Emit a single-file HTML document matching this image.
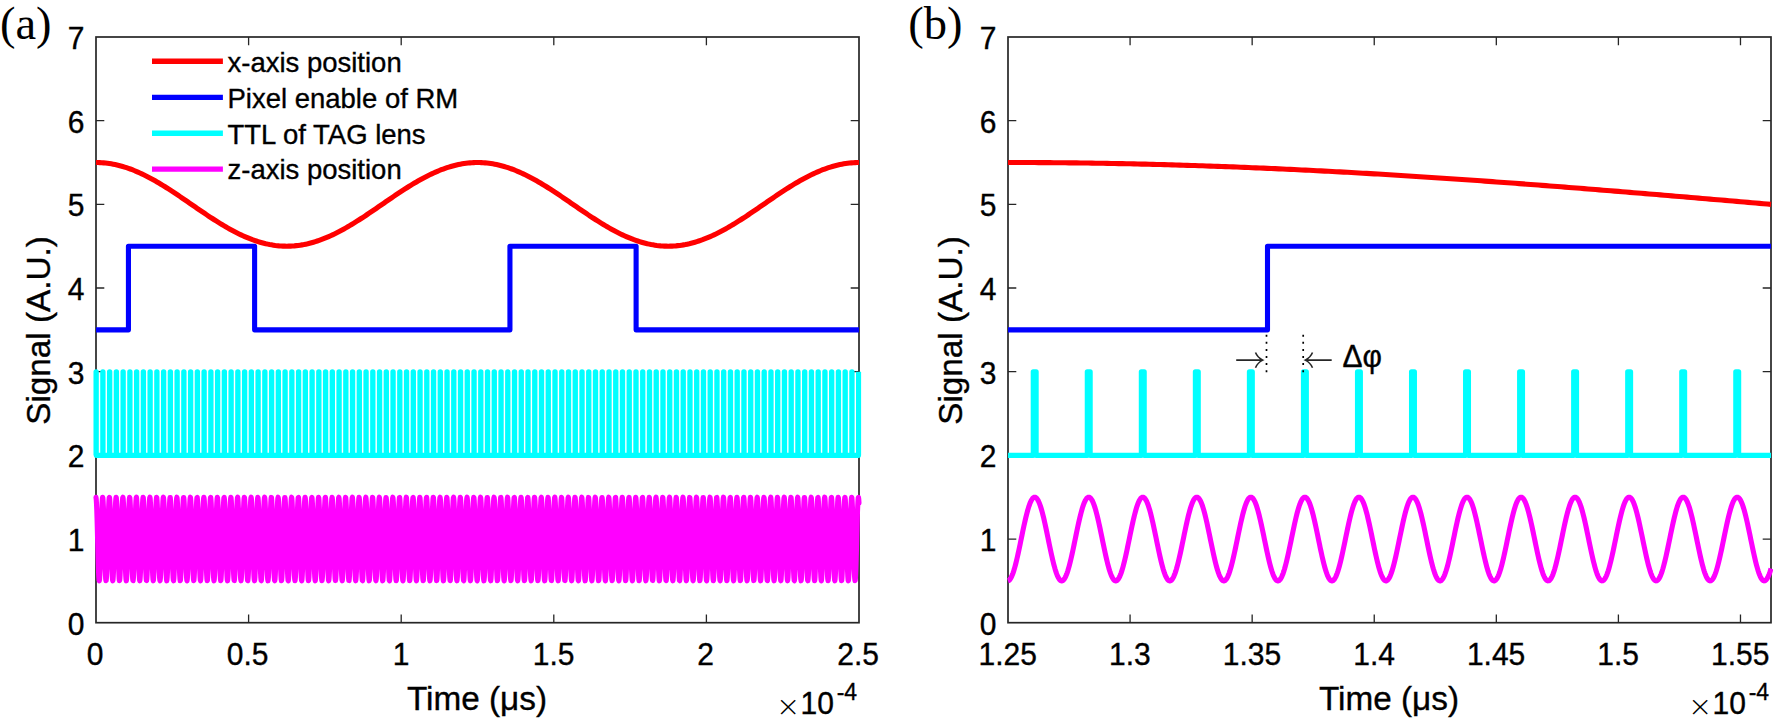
<!DOCTYPE html>
<html lang="en"><head><meta charset="utf-8"><title>Signal timing</title>
<style>
html,body{margin:0;padding:0;background:#fff}
body{width:1773px;height:724px;overflow:hidden}
svg{display:block}
text{font-family:"Liberation Sans",sans-serif;fill:#000;stroke:#000;stroke-width:0.35px}
text.tk{font-size:30px}
text.lb{font-size:33.3px}
text.sp{font-size:23px}
text.lg{font-size:27.5px}
text.pn{font-family:"Liberation Serif",serif;font-size:46.5px;fill:#000;stroke:none}
text.tm{font-family:"DejaVu Sans","Liberation Sans",sans-serif;font-size:29px;font-weight:200;stroke:none}
</style></head><body>
<svg width="1773" height="724" viewBox="0 0 1773 724">
<rect width="1773" height="724" fill="#fff"/>
<rect x="96.0" y="37.0" width="763.0" height="585.7" fill="none" stroke="#262626" stroke-width="1.7"/>
<path d="M96.0 539.03h8.3 M859.0 539.03h-8.3 M96.0 455.36h8.3 M859.0 455.36h-8.3 M96.0 371.69h8.3 M859.0 371.69h-8.3 M96.0 288.01h8.3 M859.0 288.01h-8.3 M96.0 204.34h8.3 M859.0 204.34h-8.3 M96.0 120.67h8.3 M859.0 120.67h-8.3 M248.6 622.7v-8.3 M248.6 37.0v8.3 M401.2 622.7v-8.3 M401.2 37.0v8.3 M553.8 622.7v-8.3 M553.8 37.0v8.3 M706.4 622.7v-8.3 M706.4 37.0v8.3 " fill="none" stroke="#262626" stroke-width="1.3"/>
<text class="tk" text-anchor="end" transform="translate(84.5 634.6) scale(1 1.07)">0</text>
<text class="tk" text-anchor="end" transform="translate(84.5 550.93) scale(1 1.07)">1</text>
<text class="tk" text-anchor="end" transform="translate(84.5 467.26) scale(1 1.07)">2</text>
<text class="tk" text-anchor="end" transform="translate(84.5 383.59) scale(1 1.07)">3</text>
<text class="tk" text-anchor="end" transform="translate(84.5 299.91) scale(1 1.07)">4</text>
<text class="tk" text-anchor="end" transform="translate(84.5 216.24) scale(1 1.07)">5</text>
<text class="tk" text-anchor="end" transform="translate(84.5 132.57) scale(1 1.07)">6</text>
<text class="tk" text-anchor="end" transform="translate(84.5 48.9) scale(1 1.07)">7</text>
<text class="tk" text-anchor="middle" transform="translate(95.1 665.2) scale(1 1.07)">0</text>
<text class="tk" text-anchor="middle" transform="translate(247.7 665.2) scale(1 1.07)">0.5</text>
<text class="tk" text-anchor="middle" transform="translate(401 665.2) scale(1 1.07)">1</text>
<text class="tk" text-anchor="middle" transform="translate(553.6 665.2) scale(1 1.07)">1.5</text>
<text class="tk" text-anchor="middle" transform="translate(705.5 665.2) scale(1 1.07)">2</text>
<text class="tk" text-anchor="middle" transform="translate(858.1 665.2) scale(1 1.07)">2.5</text>
<text class="lb" text-anchor="middle" transform="translate(477 710.2) scale(1 1.0)">Time (μs)</text>
<text class="lb" text-anchor="middle" transform="translate(49.8 330.45) rotate(-90) scale(1 1.0)">Signal (A.U.)</text>
<text class="tm" text-anchor="start" transform="translate(775.9 716) scale(1 1.0)">×</text>
<text class="tk" text-anchor="start" transform="translate(800.6 714.1) scale(1 1.07)">10</text>
<text class="sp" text-anchor="start" transform="translate(836.7 699.6) scale(1 1.04)">-4</text>
<path d="M96 497.37 L96.25 499.45 L96.51 503.73 L96.76 509.99 L97.02 517.86 L97.27 526.92 L97.53 536.65 L97.78 546.52 L98.03 555.97 L98.29 564.47 L98.54 571.55 L98.8 576.82 L99.05 579.97 L99.31 580.85 L99.56 579.38 L99.81 575.67 L100.07 569.91 L100.32 562.42 L100.58 553.63 L100.83 544.03 L101.09 534.14 L101.34 524.53 L101.6 515.73 L101.85 508.23 L102.1 502.45 L102.36 498.71 L102.61 497.22 L102.87 498.06 L103.12 501.19 L103.38 506.43 L103.63 513.5 L103.88 521.98 L104.14 531.42 L104.39 541.29 L104.65 551.02 L104.9 560.09 L105.16 567.98 L105.41 574.26 L105.66 578.57 L105.92 580.67 L106.17 580.45 L106.43 577.92 L106.68 573.21 L106.94 566.6 L107.19 558.44 L107.44 549.21 L107.7 539.41 L107.95 529.58 L108.21 520.28 L108.46 512.03 L108.72 505.29 L108.97 500.43 L109.23 497.72 L109.48 497.32 L109.73 499.25 L109.99 503.4 L110.24 509.53 L110.5 517.32 L110.75 526.31 L111.01 536.02 L111.26 545.89 L111.51 555.38 L111.77 563.96 L112.02 571.15 L112.28 576.54 L112.53 579.84 L112.79 580.86 L113.04 579.55 L113.29 575.97 L113.55 570.33 L113.8 562.95 L114.06 554.23 L114.31 544.66 L114.57 534.78 L114.82 525.13 L115.08 516.26 L115.33 508.66 L115.58 502.76 L115.84 498.88 L116.09 497.24 L116.35 497.94 L116.6 500.92 L116.86 506.04 L117.11 513 L117.36 521.4 L117.62 530.8 L117.87 540.65 L118.13 550.41 L118.38 559.54 L118.64 567.52 L118.89 573.91 L119.14 578.36 L119.4 580.61 L119.65 580.53 L119.91 578.15 L120.16 573.57 L120.42 567.07 L120.67 559.01 L120.92 549.83 L121.18 540.04 L121.43 530.2 L121.69 520.85 L121.94 512.52 L122.2 505.67 L122.45 500.68 L122.7 497.83 L122.96 497.28 L123.21 499.06 L123.47 503.07 L123.72 509.09 L123.98 516.78 L124.23 525.71 L124.49 535.38 L124.74 545.26 L124.99 554.8 L125.25 563.45 L125.5 570.73 L125.76 576.25 L126.01 579.69 L126.27 580.86 L126.52 579.7 L126.77 576.26 L127.03 570.75 L127.28 563.47 L127.54 554.82 L127.79 545.29 L128.05 535.41 L128.3 525.73 L128.55 516.8 L128.81 509.1 L129.06 503.08 L129.32 499.06 L129.57 497.28 L129.83 497.82 L130.08 500.67 L130.34 505.65 L130.59 512.5 L130.84 520.83 L131.1 530.18 L131.35 540.02 L131.61 549.8 L131.86 558.98 L132.12 567.05 L132.37 573.56 L132.62 578.14 L132.88 580.53 L133.13 580.61 L133.39 578.37 L133.64 573.93 L133.9 567.54 L134.15 559.56 L134.4 550.44 L134.66 540.68 L134.91 530.82 L135.17 521.43 L135.42 513.02 L135.68 506.05 L135.93 500.93 L136.18 497.94 L136.44 497.24 L136.69 498.87 L136.95 502.75 L137.2 508.64 L137.46 516.24 L137.71 525.11 L137.97 534.75 L138.22 544.63 L138.47 554.2 L138.73 562.93 L138.98 570.32 L139.24 575.96 L139.49 579.54 L139.75 580.86 L140 579.84 L140.25 576.55 L140.51 571.16 L140.76 563.98 L141.02 555.41 L141.27 545.92 L141.53 536.04 L141.78 526.34 L142.03 517.34 L142.29 509.55 L142.54 503.41 L142.8 499.26 L143.05 497.32 L143.31 497.72 L143.56 500.42 L143.81 505.27 L144.07 512.01 L144.32 520.26 L144.58 529.55 L144.83 539.38 L145.09 549.18 L145.34 558.42 L145.59 566.58 L145.85 573.2 L146.1 577.91 L146.36 580.45 L146.61 580.67 L146.87 578.58 L147.12 574.27 L147.38 568 L147.63 560.11 L147.88 551.05 L148.14 541.31 L148.39 531.45 L148.65 522.01 L148.9 513.52 L149.16 506.45 L149.41 501.2 L149.66 498.06 L149.92 497.21 L150.17 498.7 L150.43 502.43 L150.68 508.21 L150.94 515.71 L151.19 524.51 L151.44 534.12 L151.7 544 L151.95 553.61 L152.21 562.4 L152.46 569.89 L152.72 575.66 L152.97 579.38 L153.22 580.84 L153.48 579.98 L153.73 576.83 L153.99 571.57 L154.24 564.49 L154.5 555.99 L154.75 546.54 L155.01 536.68 L155.26 526.95 L155.51 517.89 L155.77 510.01 L156.02 503.75 L156.28 499.46 L156.53 497.38 L156.79 497.62 L157.04 500.18 L157.29 504.9 L157.55 511.53 L157.8 519.69 L158.06 528.94 L158.31 538.74 L158.57 548.57 L158.82 557.86 L159.07 566.1 L159.33 572.82 L159.58 577.67 L159.84 580.35 L160.09 580.73 L160.35 578.78 L160.6 574.61 L160.86 568.46 L161.11 560.66 L161.36 551.66 L161.62 541.95 L161.87 532.08 L162.13 522.59 L162.38 514.02 L162.64 506.85 L162.89 501.48 L163.14 498.2 L163.4 497.2 L163.65 498.53 L163.91 502.13 L164.16 507.78 L164.42 515.18 L164.67 523.91 L164.92 533.49 L165.18 543.37 L165.43 553.01 L165.69 561.87 L165.94 569.46 L166.2 575.34 L166.45 579.2 L166.7 580.82 L166.96 580.1 L167.21 577.1 L167.47 571.96 L167.72 564.99 L167.98 556.57 L168.23 547.17 L168.49 537.32 L168.74 527.56 L168.99 518.44 L169.25 510.47 L169.5 504.09 L169.76 499.67 L170.01 497.44 L170.27 497.53 L170.52 499.94 L170.77 504.54 L171.03 511.05 L171.28 519.13 L171.54 528.32 L171.79 538.11 L172.05 547.95 L172.3 557.29 L172.55 565.61 L172.81 572.45 L173.06 577.42 L173.32 580.25 L173.57 580.78 L173.83 578.97 L174.08 574.94 L174.33 568.91 L174.59 561.2 L174.84 552.26 L175.1 542.58 L175.35 532.7 L175.61 523.18 L175.86 514.54 L176.12 507.26 L176.37 501.76 L176.62 498.34 L176.88 497.19 L177.13 498.38 L177.39 501.83 L177.64 507.36 L177.9 514.66 L178.15 523.32 L178.4 532.86 L178.66 542.74 L178.91 552.41 L179.17 561.34 L179.42 569.02 L179.68 575.02 L179.93 579.02 L180.18 580.79 L180.44 580.22 L180.69 577.36 L180.95 572.35 L181.2 565.49 L181.46 557.15 L181.71 547.79 L181.96 537.95 L182.22 528.17 L182.47 518.99 L182.73 510.94 L182.98 504.45 L183.24 499.89 L183.49 497.51 L183.75 497.46 L184 499.72 L184.25 504.18 L184.51 510.58 L184.76 518.57 L185.02 527.71 L185.27 537.47 L185.53 547.32 L185.78 556.71 L186.03 565.11 L186.29 572.06 L186.54 577.16 L186.8 580.13 L187.05 580.81 L187.31 579.16 L187.56 575.27 L187.81 569.35 L188.07 561.74 L188.32 552.86 L188.58 543.22 L188.83 533.33 L189.09 523.77 L189.34 515.06 L189.59 507.68 L189.85 502.06 L190.1 498.5 L190.36 497.2 L190.61 498.23 L190.87 501.55 L191.12 506.95 L191.38 514.15 L191.63 522.73 L191.88 532.23 L192.14 542.1 L192.39 551.81 L192.65 560.8 L192.9 568.57 L193.16 574.69 L193.41 578.83 L193.66 580.74 L193.92 580.33 L194.17 577.61 L194.43 572.73 L194.68 565.98 L194.94 557.72 L195.19 548.41 L195.44 538.59 L195.7 528.79 L195.95 519.55 L196.21 511.41 L196.46 504.81 L196.72 500.12 L196.97 497.6 L197.22 497.39 L197.48 499.51 L197.73 503.83 L197.99 510.12 L198.24 518.02 L198.5 527.09 L198.75 536.84 L199 546.7 L199.26 556.13 L199.51 564.61 L199.77 571.66 L200.02 576.89 L200.28 580.01 L200.53 580.84 L200.79 579.33 L201.04 575.58 L201.29 569.78 L201.55 562.27 L201.8 553.46 L202.06 543.85 L202.31 533.96 L202.57 524.36 L202.82 515.58 L203.07 508.11 L203.33 502.36 L203.58 498.66 L203.84 497.21 L204.09 498.1 L204.35 501.27 L204.6 506.55 L204.85 513.64 L205.11 522.15 L205.36 531.6 L205.62 541.47 L205.87 551.2 L206.13 560.25 L206.38 568.12 L206.63 574.36 L206.89 578.63 L207.14 580.69 L207.4 580.42 L207.65 577.85 L207.91 573.1 L208.16 566.46 L208.42 558.28 L208.67 549.03 L208.92 539.22 L209.18 529.4 L209.43 520.12 L209.69 511.89 L209.94 505.18 L210.2 500.36 L210.45 497.69 L210.7 497.33 L210.96 499.3 L211.21 503.49 L211.47 509.66 L211.72 517.47 L211.98 526.49 L212.23 536.2 L212.48 546.07 L212.74 555.55 L212.99 564.11 L213.25 571.26 L213.5 576.62 L213.76 579.88 L214.01 580.86 L214.26 579.5 L214.52 575.88 L214.77 570.21 L215.03 562.8 L215.28 554.06 L215.54 544.48 L215.79 534.6 L216.05 524.96 L216.3 516.11 L216.55 508.54 L216.81 502.67 L217.06 498.83 L217.32 497.23 L217.57 497.97 L217.83 501 L218.08 506.15 L218.33 513.14 L218.59 521.57 L218.84 530.98 L219.1 540.83 L219.35 550.59 L219.61 559.7 L219.86 567.65 L220.11 574.01 L220.37 578.42 L220.62 580.63 L220.88 580.51 L221.13 578.08 L221.39 573.47 L221.64 566.94 L221.89 558.85 L222.15 549.65 L222.4 539.86 L222.66 530.02 L222.91 520.69 L223.17 512.38 L223.42 505.56 L223.68 500.6 L223.93 497.79 L224.18 497.29 L224.44 499.11 L224.69 503.16 L224.95 509.21 L225.2 516.93 L225.46 525.88 L225.71 535.57 L225.96 545.44 L226.22 554.96 L226.47 563.59 L226.73 570.85 L226.98 576.34 L227.24 579.74 L227.49 580.86 L227.74 579.66 L228 576.18 L228.25 570.63 L228.51 563.32 L228.76 554.65 L229.02 545.11 L229.27 535.23 L229.53 525.56 L229.78 516.64 L230.03 508.98 L230.29 502.99 L230.54 499.01 L230.8 497.27 L231.05 497.85 L231.31 500.74 L231.56 505.76 L231.81 512.64 L232.07 520.99 L232.32 530.35 L232.58 540.2 L232.83 549.98 L233.09 559.14 L233.34 567.19 L233.59 573.66 L233.85 578.2 L234.1 580.55 L234.36 580.59 L234.61 578.3 L234.87 573.83 L235.12 567.41 L235.37 559.4 L235.63 550.26 L235.88 540.5 L236.14 530.65 L236.39 521.26 L236.65 512.87 L236.9 505.94 L237.16 500.86 L237.41 497.91 L237.66 497.25 L237.92 498.92 L238.17 502.84 L238.43 508.77 L238.68 516.39 L238.94 525.28 L239.19 534.93 L239.44 544.81 L239.7 554.37 L239.95 563.08 L240.21 570.44 L240.46 576.04 L240.72 579.58 L240.97 580.86 L241.22 579.8 L241.48 576.47 L241.73 571.05 L241.99 563.83 L242.24 555.24 L242.5 545.74 L242.75 535.86 L243 526.16 L243.26 517.18 L243.51 509.42 L243.77 503.31 L244.02 499.2 L244.28 497.31 L244.53 497.74 L244.78 500.49 L245.04 505.38 L245.29 512.15 L245.55 520.42 L245.8 529.73 L246.06 539.56 L246.31 549.36 L246.57 558.58 L246.82 566.71 L247.07 573.3 L247.33 577.97 L247.58 580.47 L247.84 580.66 L248.09 578.52 L248.35 574.18 L248.6 567.87 L248.85 559.96 L249.11 550.88 L249.36 541.13 L249.62 531.27 L249.87 521.84 L250.13 513.37 L250.38 506.34 L250.63 501.12 L250.89 498.03 L251.14 497.22 L251.4 498.75 L251.65 502.52 L251.91 508.33 L252.16 515.86 L252.41 524.68 L252.67 534.3 L252.92 544.18 L253.18 553.78 L253.43 562.55 L253.69 570.01 L253.94 575.74 L254.2 579.42 L254.45 580.85 L254.7 579.94 L254.96 576.75 L255.21 571.45 L255.47 564.34 L255.72 555.82 L255.98 546.37 L256.23 536.5 L256.48 526.77 L256.74 517.73 L256.99 509.88 L257.25 503.65 L257.5 499.4 L257.76 497.36 L258.01 497.65 L258.26 500.24 L258.52 505.01 L258.77 511.67 L259.03 519.85 L259.28 529.11 L259.54 538.92 L259.79 548.74 L260.04 558.02 L260.3 566.23 L260.55 572.93 L260.81 577.74 L261.06 580.38 L261.32 580.72 L261.57 578.72 L261.83 574.52 L262.08 568.33 L262.33 560.51 L262.59 551.48 L262.84 541.77 L263.1 531.9 L263.35 522.42 L263.61 513.88 L263.86 506.74 L264.11 501.4 L264.37 498.16 L264.62 497.2 L264.88 498.58 L265.13 502.22 L265.39 507.91 L265.64 515.33 L265.89 524.08 L266.15 533.67 L266.4 543.55 L266.66 553.18 L266.91 562.02 L267.17 569.58 L267.42 575.43 L267.68 579.25 L267.93 580.83 L268.18 580.07 L268.44 577.02 L268.69 571.85 L268.95 564.85 L269.2 556.4 L269.46 546.99 L269.71 537.13 L269.96 527.38 L270.22 518.28 L270.47 510.34 L270.73 503.99 L270.98 499.61 L271.24 497.42 L271.49 497.56 L271.74 500.01 L272 504.64 L272.25 511.19 L272.51 519.29 L272.76 528.5 L273.02 538.29 L273.27 548.12 L273.52 557.45 L273.78 565.75 L274.03 572.55 L274.29 577.49 L274.54 580.28 L274.8 580.76 L275.05 578.92 L275.31 574.85 L275.56 568.78 L275.81 561.05 L276.07 552.09 L276.32 542.4 L276.58 532.52 L276.83 523.01 L277.09 514.39 L277.34 507.15 L277.59 501.68 L277.85 498.3 L278.1 497.19 L278.36 498.42 L278.61 501.92 L278.87 507.48 L279.12 514.81 L279.37 523.49 L279.63 533.04 L279.88 542.92 L280.14 552.58 L280.39 561.49 L280.65 569.14 L280.9 575.12 L281.15 579.07 L281.41 580.8 L281.66 580.19 L281.92 577.28 L282.17 572.24 L282.43 565.35 L282.68 556.98 L282.94 547.61 L283.19 537.77 L283.44 527.99 L283.7 518.83 L283.95 510.8 L284.21 504.35 L284.46 499.83 L284.72 497.49 L284.97 497.48 L285.22 499.78 L285.48 504.28 L285.73 510.72 L285.99 518.73 L286.24 527.88 L286.5 537.65 L286.75 547.5 L287 556.88 L287.26 565.25 L287.51 572.17 L287.77 577.23 L288.02 580.17 L288.28 580.8 L288.53 579.11 L288.78 575.17 L289.04 569.22 L289.29 561.59 L289.55 552.69 L289.8 543.03 L290.06 533.15 L290.31 523.6 L290.56 514.91 L290.82 507.56 L291.07 501.97 L291.33 498.45 L291.58 497.19 L291.84 498.27 L292.09 501.63 L292.35 507.07 L292.6 514.3 L292.85 522.9 L293.11 532.41 L293.36 542.28 L293.62 551.98 L293.87 560.95 L294.13 568.7 L294.38 574.79 L294.63 578.89 L294.89 580.76 L295.14 580.3 L295.4 577.54 L295.65 572.62 L295.91 565.84 L296.16 557.55 L296.41 548.24 L296.67 538.41 L296.92 528.61 L297.18 519.39 L297.43 511.28 L297.69 504.71 L297.94 500.05 L298.19 497.57 L298.45 497.41 L298.7 499.57 L298.96 503.93 L299.21 510.25 L299.47 518.18 L299.72 527.27 L299.98 537.02 L300.23 546.88 L300.48 556.3 L300.74 564.76 L300.99 571.78 L301.25 576.97 L301.5 580.05 L301.76 580.83 L302.01 579.29 L302.26 575.49 L302.52 569.66 L302.77 562.12 L303.03 553.29 L303.28 543.67 L303.54 533.78 L303.79 524.19 L304.04 515.43 L304.3 507.98 L304.55 502.27 L304.81 498.61 L305.06 497.21 L305.32 498.13 L305.57 501.35 L305.82 506.66 L306.08 513.79 L306.33 522.32 L306.59 531.78 L306.84 541.65 L307.1 551.37 L307.35 560.41 L307.61 568.25 L307.86 574.46 L308.11 578.69 L308.37 580.71 L308.62 580.4 L308.88 577.78 L309.13 573 L309.39 566.32 L309.64 558.12 L309.89 548.86 L310.15 539.04 L310.4 529.23 L310.66 519.96 L310.91 511.75 L311.17 505.07 L311.42 500.29 L311.67 497.66 L311.93 497.35 L312.18 499.36 L312.44 503.59 L312.69 509.79 L312.95 517.63 L313.2 526.66 L313.46 536.38 L313.71 546.25 L313.96 555.72 L314.22 564.25 L314.47 571.38 L314.73 576.7 L314.98 579.92 L315.24 580.85 L315.49 579.45 L315.74 575.8 L316 570.09 L316.25 562.65 L316.51 553.89 L316.76 544.3 L317.02 534.42 L317.27 524.79 L317.52 515.96 L317.78 508.41 L318.03 502.58 L318.29 498.78 L318.54 497.23 L318.8 498.01 L319.05 501.08 L319.3 506.26 L319.56 513.28 L319.81 521.74 L320.07 531.16 L320.32 541.01 L320.58 550.76 L320.83 559.86 L321.09 567.79 L321.34 574.11 L321.59 578.48 L321.85 580.65 L322.1 580.49 L322.36 578.01 L322.61 573.37 L322.87 566.8 L323.12 558.69 L323.37 549.47 L323.63 539.68 L323.88 529.85 L324.14 520.53 L324.39 512.24 L324.65 505.45 L324.9 500.53 L325.15 497.76 L325.41 497.3 L325.66 499.16 L325.92 503.25 L326.17 509.34 L326.43 517.08 L326.68 526.05 L326.93 535.75 L327.19 545.62 L327.44 555.13 L327.7 563.74 L327.95 570.97 L328.21 576.42 L328.46 579.78 L328.72 580.86 L328.97 579.61 L329.22 576.1 L329.48 570.51 L329.73 563.17 L329.99 554.48 L330.24 544.93 L330.5 535.05 L330.75 525.39 L331 516.49 L331.26 508.85 L331.51 502.9 L331.77 498.96 L332.02 497.26 L332.28 497.89 L332.53 500.81 L332.78 505.87 L333.04 512.78 L333.29 521.16 L333.55 530.53 L333.8 540.38 L334.06 550.15 L334.31 559.3 L334.56 567.32 L334.82 573.76 L335.07 578.26 L335.33 580.58 L335.58 580.57 L335.84 578.24 L336.09 573.73 L336.35 567.27 L336.6 559.25 L336.85 550.09 L337.11 540.31 L337.36 530.47 L337.62 521.1 L337.87 512.73 L338.13 505.83 L338.38 500.79 L338.63 497.87 L338.89 497.26 L339.14 498.98 L339.4 502.93 L339.65 508.9 L339.91 516.55 L340.16 525.45 L340.41 535.11 L340.67 544.99 L340.92 554.54 L341.18 563.22 L341.43 570.56 L341.69 576.13 L341.94 579.63 L342.19 580.86 L342.45 579.76 L342.7 576.39 L342.96 570.93 L343.21 563.69 L343.47 555.07 L343.72 545.56 L343.98 535.68 L344.23 525.99 L344.48 517.03 L344.74 509.3 L344.99 503.22 L345.25 499.14 L345.5 497.29 L345.76 497.77 L346.01 500.56 L346.26 505.49 L346.52 512.29 L346.77 520.58 L347.03 529.91 L347.28 539.74 L347.54 549.54 L347.79 558.74 L348.04 566.85 L348.3 573.4 L348.55 578.04 L348.81 580.5 L349.06 580.64 L349.32 578.46 L349.57 574.08 L349.82 567.74 L350.08 559.8 L350.33 550.7 L350.59 540.95 L350.84 531.09 L351.1 521.68 L351.35 513.23 L351.61 506.22 L351.86 501.05 L352.11 497.99 L352.37 497.23 L352.62 498.8 L352.88 502.61 L353.13 508.46 L353.39 516.01 L353.64 524.85 L353.89 534.48 L354.15 544.36 L354.4 553.95 L354.66 562.7 L354.91 570.13 L355.17 575.83 L355.42 579.47 L355.67 580.85 L355.93 579.9 L356.18 576.67 L356.44 571.34 L356.69 564.2 L356.95 555.66 L357.2 546.19 L357.45 536.32 L357.71 526.6 L357.96 517.57 L358.22 509.75 L358.47 503.55 L358.73 499.34 L358.98 497.34 L359.24 497.67 L359.49 500.31 L359.74 505.11 L360 511.8 L360.25 520.02 L360.51 529.29 L360.76 539.11 L361.02 548.92 L361.27 558.18 L361.52 566.37 L361.78 573.04 L362.03 577.8 L362.29 580.41 L362.54 580.7 L362.8 578.67 L363.05 574.42 L363.3 568.2 L363.56 560.35 L363.81 551.31 L364.07 541.58 L364.32 531.72 L364.58 522.26 L364.83 513.73 L365.08 506.62 L365.34 501.32 L365.59 498.12 L365.85 497.21 L366.1 498.63 L366.36 502.3 L366.61 508.03 L366.87 515.48 L367.12 524.25 L367.37 533.85 L367.63 543.73 L367.88 553.35 L368.14 562.18 L368.39 569.71 L368.65 575.52 L368.9 579.3 L369.15 580.84 L369.41 580.03 L369.66 576.94 L369.92 571.74 L370.17 564.7 L370.43 556.24 L370.68 546.81 L370.93 536.95 L371.19 527.21 L371.44 518.12 L371.7 510.2 L371.95 503.89 L372.21 499.55 L372.46 497.4 L372.71 497.58 L372.97 500.08 L373.22 504.74 L373.48 511.32 L373.73 519.45 L373.99 528.67 L374.24 538.47 L374.5 548.3 L374.75 557.61 L375 565.89 L375.26 572.66 L375.51 577.56 L375.77 580.31 L376.02 580.75 L376.28 578.87 L376.53 574.76 L376.78 568.65 L377.04 560.89 L377.29 551.92 L377.55 542.22 L377.8 532.34 L378.06 522.84 L378.31 514.24 L378.56 507.03 L378.82 501.6 L379.07 498.26 L379.33 497.2 L379.58 498.47 L379.84 502 L380.09 507.6 L380.34 514.96 L380.6 523.66 L380.85 533.22 L381.11 543.1 L381.36 552.75 L381.62 561.64 L381.87 569.27 L382.12 575.21 L382.38 579.13 L382.63 580.81 L382.89 580.16 L383.14 577.21 L383.4 572.13 L383.65 565.2 L383.91 556.82 L384.16 547.44 L384.41 537.59 L384.67 527.82 L384.92 518.68 L385.18 510.67 L385.43 504.24 L385.69 499.76 L385.94 497.47 L386.19 497.5 L386.45 499.85 L386.7 504.38 L386.96 510.85 L387.21 518.89 L387.47 528.06 L387.72 537.83 L387.97 547.68 L388.23 557.04 L388.48 565.4 L388.74 572.28 L388.99 577.31 L389.25 580.2 L389.5 580.79 L389.75 579.06 L390.01 575.08 L390.26 569.1 L390.52 561.43 L390.77 552.52 L391.03 542.85 L391.28 532.97 L391.54 523.43 L391.79 514.76 L392.04 507.44 L392.3 501.89 L392.55 498.41 L392.81 497.19 L393.06 498.32 L393.32 501.71 L393.57 507.19 L393.82 514.44 L394.08 523.07 L394.33 532.59 L394.59 542.47 L394.84 552.15 L395.1 561.1 L395.35 568.83 L395.6 574.88 L395.86 578.94 L396.11 580.77 L396.37 580.27 L396.62 577.46 L396.88 572.52 L397.13 565.7 L397.38 557.39 L397.64 548.06 L397.89 538.22 L398.15 528.43 L398.4 519.23 L398.66 511.14 L398.91 504.6 L399.17 499.99 L399.42 497.55 L399.67 497.43 L399.93 499.63 L400.18 504.03 L400.44 510.38 L400.69 518.34 L400.95 527.44 L401.2 537.2 L401.45 547.05 L401.71 556.46 L401.96 564.9 L402.22 571.89 L402.47 577.05 L402.73 580.08 L402.98 580.83 L403.23 579.24 L403.49 575.4 L403.74 569.54 L404 561.97 L404.25 553.12 L404.51 543.49 L404.76 533.6 L405.01 524.02 L405.27 515.28 L405.52 507.86 L405.78 502.18 L406.03 498.56 L406.29 497.2 L406.54 498.17 L406.8 501.43 L407.05 506.78 L407.3 513.93 L407.56 522.48 L407.81 531.96 L408.07 541.83 L408.32 551.55 L408.58 560.56 L408.83 568.38 L409.08 574.55 L409.34 578.74 L409.59 580.72 L409.85 580.37 L410.1 577.71 L410.36 572.89 L410.61 566.18 L410.86 557.96 L411.12 548.68 L411.37 538.86 L411.63 529.05 L411.88 519.8 L412.14 511.62 L412.39 504.97 L412.64 500.22 L412.9 497.64 L413.15 497.37 L413.41 499.42 L413.66 503.68 L413.92 509.92 L414.17 517.79 L414.43 526.83 L414.68 536.56 L414.93 546.43 L415.19 555.88 L415.44 564.4 L415.7 571.49 L415.95 576.78 L416.21 579.95 L416.46 580.85 L416.71 579.41 L416.97 575.71 L417.22 569.97 L417.48 562.5 L417.73 553.72 L417.99 544.12 L418.24 534.23 L418.49 524.62 L418.75 515.81 L419 508.29 L419.26 502.49 L419.51 498.73 L419.77 497.22 L420.02 498.04 L420.27 501.15 L420.53 506.38 L420.78 513.42 L421.04 521.9 L421.29 531.33 L421.55 541.2 L421.8 550.94 L422.06 560.01 L422.31 567.92 L422.56 574.21 L422.82 578.54 L423.07 580.66 L423.33 580.46 L423.58 577.95 L423.84 573.26 L424.09 566.67 L424.34 558.53 L424.6 549.3 L424.85 539.5 L425.11 529.67 L425.36 520.36 L425.62 512.1 L425.87 505.34 L426.12 500.46 L426.38 497.73 L426.63 497.31 L426.89 499.22 L427.14 503.35 L427.4 509.47 L427.65 517.24 L427.9 526.23 L428.16 535.93 L428.41 545.8 L428.67 555.3 L428.92 563.89 L429.18 571.09 L429.43 576.5 L429.69 579.82 L429.94 580.86 L430.19 579.57 L430.45 576.01 L430.7 570.39 L430.96 563.02 L431.21 554.31 L431.47 544.75 L431.72 534.87 L431.97 525.22 L432.23 516.34 L432.48 508.73 L432.74 502.8 L432.99 498.91 L433.25 497.25 L433.5 497.92 L433.75 500.89 L434.01 505.98 L434.26 512.92 L434.52 521.32 L434.77 530.71 L435.03 540.56 L435.28 550.33 L435.54 559.46 L435.79 567.46 L436.04 573.86 L436.3 578.33 L436.55 580.6 L436.81 580.55 L437.06 578.18 L437.32 573.62 L437.57 567.14 L437.82 559.09 L438.08 549.91 L438.33 540.13 L438.59 530.29 L438.84 520.94 L439.1 512.59 L439.35 505.72 L439.6 500.71 L439.86 497.84 L440.11 497.27 L440.37 499.03 L440.62 503.02 L440.88 509.02 L441.13 516.7 L441.38 525.62 L441.64 535.29 L441.89 545.17 L442.15 554.71 L442.4 563.37 L442.66 570.68 L442.91 576.21 L443.17 579.67 L443.42 580.86 L443.67 579.72 L443.93 576.31 L444.18 570.81 L444.44 563.54 L444.69 554.9 L444.95 545.38 L445.2 535.5 L445.45 525.82 L445.71 516.88 L445.96 509.17 L446.22 503.13 L446.47 499.09 L446.73 497.28 L446.98 497.81 L447.23 500.63 L447.49 505.6 L447.74 512.43 L448 520.75 L448.25 530.09 L448.51 539.92 L448.76 549.71 L449.01 558.9 L449.27 566.99 L449.52 573.51 L449.78 578.1 L450.03 580.52 L450.29 580.62 L450.54 578.4 L450.8 573.98 L451.05 567.61 L451.3 559.64 L451.56 550.53 L451.81 540.77 L452.07 530.91 L452.32 521.51 L452.58 513.09 L452.83 506.11 L453.08 500.97 L453.34 497.96 L453.59 497.24 L453.85 498.85 L454.1 502.7 L454.36 508.58 L454.61 516.16 L454.86 525.02 L455.12 534.66 L455.37 544.54 L455.63 554.12 L455.88 562.85 L456.14 570.26 L456.39 575.92 L456.64 579.52 L456.9 580.86 L457.15 579.86 L457.41 576.59 L457.66 571.22 L457.92 564.05 L458.17 555.49 L458.43 546.01 L458.68 536.14 L458.93 526.42 L459.19 517.42 L459.44 509.62 L459.7 503.46 L459.95 499.28 L460.21 497.33 L460.46 497.7 L460.71 500.38 L460.97 505.22 L461.22 511.94 L461.48 520.18 L461.73 529.47 L461.99 539.29 L462.24 549.1 L462.49 558.34 L462.75 566.51 L463 573.14 L463.26 577.87 L463.51 580.43 L463.77 580.68 L464.02 578.61 L464.27 574.32 L464.53 568.07 L464.78 560.19 L465.04 551.14 L465.29 541.4 L465.55 531.54 L465.8 522.09 L466.06 513.59 L466.31 506.51 L466.56 501.24 L466.82 498.08 L467.07 497.21 L467.33 498.67 L467.58 502.39 L467.84 508.15 L468.09 515.63 L468.34 524.42 L468.6 534.03 L468.85 543.91 L469.11 553.52 L469.36 562.33 L469.62 569.83 L469.87 575.61 L470.12 579.35 L470.38 580.84 L470.63 580 L470.89 576.87 L471.14 571.62 L471.4 564.56 L471.65 556.07 L471.9 546.63 L472.16 536.77 L472.41 527.03 L472.67 517.96 L472.92 510.07 L473.18 503.8 L473.43 499.49 L473.69 497.39 L473.94 497.61 L474.19 500.14 L474.45 504.85 L474.7 511.46 L474.96 519.61 L475.21 528.85 L475.47 538.65 L475.72 548.48 L475.97 557.77 L476.23 566.03 L476.48 572.77 L476.74 577.63 L476.99 580.34 L477.25 580.74 L477.5 578.81 L477.75 574.66 L478.01 568.52 L478.26 560.74 L478.52 551.74 L478.77 542.04 L479.03 532.16 L479.28 522.67 L479.53 514.1 L479.79 506.91 L480.04 501.52 L480.3 498.22 L480.55 497.2 L480.81 498.51 L481.06 502.09 L481.31 507.72 L481.57 515.11 L481.82 523.83 L482.08 533.4 L482.33 543.28 L482.59 552.93 L482.84 561.8 L483.1 569.39 L483.35 575.3 L483.6 579.18 L483.86 580.82 L484.11 580.12 L484.37 577.13 L484.62 572.02 L484.88 565.06 L485.13 556.65 L485.38 547.26 L485.64 537.41 L485.89 527.64 L486.15 518.52 L486.4 510.54 L486.66 504.14 L486.91 499.7 L487.16 497.45 L487.42 497.52 L487.67 499.91 L487.93 504.48 L488.18 510.98 L488.44 519.05 L488.69 528.23 L488.94 538.02 L489.2 547.86 L489.45 557.2 L489.71 565.54 L489.96 572.39 L490.22 577.38 L490.47 580.23 L490.73 580.78 L490.98 579 L491.23 574.99 L491.49 568.97 L491.74 561.28 L492 552.35 L492.25 542.67 L492.51 532.79 L492.76 523.26 L493.01 514.61 L493.27 507.32 L493.52 501.8 L493.78 498.36 L494.03 497.19 L494.29 498.36 L494.54 501.79 L494.79 507.31 L495.05 514.59 L495.3 523.24 L495.56 532.77 L495.81 542.65 L496.07 552.32 L496.32 561.26 L496.57 568.95 L496.83 574.98 L497.08 578.99 L497.34 580.78 L497.59 580.24 L497.85 577.39 L498.1 572.41 L498.36 565.56 L498.61 557.23 L498.86 547.88 L499.12 538.04 L499.37 528.26 L499.63 519.07 L499.88 511 L500.14 504.5 L500.39 499.92 L500.64 497.53 L500.9 497.45 L501.15 499.69 L501.41 504.13 L501.66 510.52 L501.92 518.49 L502.17 527.62 L502.42 537.38 L502.68 547.23 L502.93 556.63 L503.19 565.04 L503.44 572 L503.7 577.12 L503.95 580.12 L504.2 580.82 L504.46 579.18 L504.71 575.31 L504.97 569.41 L505.22 561.82 L505.48 552.95 L505.73 543.31 L505.99 533.42 L506.24 523.85 L506.49 515.13 L506.75 507.74 L507 502.1 L507.26 498.52 L507.51 497.2 L507.77 498.21 L508.02 501.51 L508.27 506.89 L508.53 514.08 L508.78 522.65 L509.04 532.14 L509.29 542.01 L509.55 551.72 L509.8 560.72 L510.05 568.51 L510.31 574.65 L510.56 578.8 L510.82 580.74 L511.07 580.34 L511.33 577.64 L511.58 572.79 L511.83 566.05 L512.09 557.8 L512.34 548.5 L512.6 538.68 L512.85 528.87 L513.11 519.64 L513.36 511.48 L513.62 504.86 L513.87 500.15 L514.12 497.61 L514.38 497.38 L514.63 499.48 L514.89 503.78 L515.14 510.05 L515.4 517.94 L515.65 527.01 L515.9 536.74 L516.16 546.61 L516.41 556.05 L516.67 564.54 L516.92 571.61 L517.18 576.86 L517.43 579.99 L517.68 580.84 L517.94 579.36 L518.19 575.62 L518.45 569.85 L518.7 562.35 L518.96 553.55 L519.21 543.94 L519.46 534.05 L519.72 524.45 L519.97 515.66 L520.23 508.17 L520.48 502.4 L520.74 498.68 L520.99 497.21 L521.25 498.08 L521.5 501.23 L521.75 506.49 L522.01 513.57 L522.26 522.07 L522.52 531.51 L522.77 541.38 L523.03 551.11 L523.28 560.17 L523.53 568.05 L523.79 574.31 L524.04 578.6 L524.3 580.68 L524.55 580.44 L524.81 577.88 L525.06 573.16 L525.31 566.53 L525.57 558.36 L525.82 549.12 L526.08 539.31 L526.33 529.49 L526.59 520.2 L526.84 511.96 L527.1 505.23 L527.35 500.39 L527.6 497.71 L527.86 497.33 L528.11 499.28 L528.37 503.44 L528.62 509.6 L528.88 517.4 L529.13 526.4 L529.38 536.11 L529.64 545.98 L529.89 555.47 L530.15 564.03 L530.4 571.2 L530.66 576.58 L530.91 579.86 L531.16 580.86 L531.42 579.52 L531.67 575.93 L531.93 570.27 L532.18 562.87 L532.44 554.14 L532.69 544.57 L532.94 534.69 L533.2 525.05 L533.45 516.19 L533.71 508.6 L533.96 502.71 L534.22 498.85 L534.47 497.24 L534.73 497.95 L534.98 500.96 L535.23 506.09 L535.49 513.07 L535.74 521.49 L536 530.89 L536.25 540.74 L536.51 550.5 L536.76 559.62 L537.01 567.59 L537.27 573.96 L537.52 578.39 L537.78 580.62 L538.03 580.52 L538.29 578.11 L538.54 573.52 L538.79 567 L539.05 558.93 L539.3 549.74 L539.56 539.95 L539.81 530.11 L540.07 520.77 L540.32 512.45 L540.57 505.61 L540.83 500.64 L541.08 497.81 L541.34 497.28 L541.59 499.08 L541.85 503.11 L542.1 509.15 L542.36 516.85 L542.61 525.79 L542.86 535.48 L543.12 545.35 L543.37 554.88 L543.63 563.52 L543.88 570.79 L544.14 576.29 L544.39 579.71 L544.64 580.86 L544.9 579.68 L545.15 576.22 L545.41 570.69 L545.66 563.39 L545.92 554.74 L546.17 545.2 L546.42 535.32 L546.68 525.65 L546.93 516.72 L547.19 509.04 L547.44 503.03 L547.7 499.04 L547.95 497.27 L548.2 497.84 L548.46 500.7 L548.71 505.71 L548.97 512.57 L549.22 520.91 L549.48 530.26 L549.73 540.11 L549.99 549.89 L550.24 559.06 L550.49 567.12 L550.75 573.61 L551 578.17 L551.26 580.54 L551.51 580.6 L551.77 578.34 L552.02 573.88 L552.27 567.47 L552.53 559.48 L552.78 550.35 L553.04 540.59 L553.29 530.73 L553.55 521.35 L553.8 512.94 L554.05 506 L554.31 500.9 L554.56 497.92 L554.82 497.24 L555.07 498.9 L555.33 502.79 L555.58 508.71 L555.83 516.32 L556.09 525.19 L556.34 534.84 L556.6 544.72 L556.85 554.29 L557.11 563 L557.36 570.38 L557.62 576 L557.87 579.56 L558.12 580.86 L558.38 579.82 L558.63 576.51 L558.89 571.1 L559.14 563.91 L559.4 555.32 L559.65 545.83 L559.9 535.95 L560.16 526.25 L560.41 517.26 L560.67 509.49 L560.92 503.36 L561.18 499.23 L561.43 497.31 L561.68 497.73 L561.94 500.45 L562.19 505.33 L562.45 512.08 L562.7 520.34 L562.96 529.64 L563.21 539.47 L563.46 549.27 L563.72 558.5 L563.97 566.65 L564.23 573.25 L564.48 577.94 L564.74 580.46 L564.99 580.67 L565.25 578.55 L565.5 574.23 L565.75 567.94 L566.01 560.04 L566.26 550.96 L566.52 541.22 L566.77 531.36 L567.03 521.92 L567.28 513.44 L567.53 506.39 L567.79 501.16 L568.04 498.05 L568.3 497.22 L568.55 498.72 L568.81 502.48 L569.06 508.27 L569.31 515.78 L569.57 524.59 L569.82 534.21 L570.08 544.09 L570.33 553.69 L570.59 562.48 L570.84 569.95 L571.09 575.7 L571.35 579.4 L571.6 580.85 L571.86 579.96 L572.11 576.79 L572.37 571.51 L572.62 564.42 L572.88 555.91 L573.13 546.46 L573.38 536.59 L573.64 526.86 L573.89 517.81 L574.15 509.94 L574.4 503.7 L574.66 499.43 L574.91 497.37 L575.16 497.63 L575.42 500.21 L575.67 504.95 L575.93 511.6 L576.18 519.77 L576.44 529.02 L576.69 538.83 L576.94 548.65 L577.2 557.94 L577.45 566.16 L577.71 572.88 L577.96 577.7 L578.22 580.37 L578.47 580.72 L578.72 578.75 L578.98 574.57 L579.23 568.39 L579.49 560.58 L579.74 551.57 L580 541.86 L580.25 531.99 L580.5 522.51 L580.76 513.95 L581.01 506.79 L581.27 501.44 L581.52 498.18 L581.78 497.2 L582.03 498.56 L582.29 502.17 L582.54 507.84 L582.79 515.26 L583.05 524 L583.3 533.58 L583.56 543.46 L583.81 553.1 L584.07 561.95 L584.32 569.52 L584.57 575.39 L584.83 579.23 L585.08 580.82 L585.34 580.09 L585.59 577.06 L585.85 571.91 L586.1 564.92 L586.35 556.49 L586.61 547.08 L586.86 537.22 L587.12 527.47 L587.37 518.36 L587.63 510.4 L587.88 504.04 L588.13 499.64 L588.39 497.43 L588.64 497.55 L588.9 499.98 L589.15 504.59 L589.41 511.12 L589.66 519.21 L589.92 528.41 L590.17 538.2 L590.42 548.03 L590.68 557.37 L590.93 565.68 L591.19 572.5 L591.44 577.45 L591.7 580.26 L591.95 580.77 L592.2 578.95 L592.46 574.9 L592.71 568.84 L592.97 561.13 L593.22 552.18 L593.48 542.49 L593.73 532.61 L593.98 523.09 L594.24 514.46 L594.49 507.2 L594.75 501.72 L595 498.32 L595.26 497.19 L595.51 498.4 L595.76 501.88 L596.02 507.42 L596.27 514.74 L596.53 523.41 L596.78 532.95 L597.04 542.83 L597.29 552.5 L597.55 561.41 L597.8 569.08 L598.05 575.07 L598.31 579.05 L598.56 580.79 L598.82 580.2 L599.07 577.32 L599.33 572.3 L599.58 565.42 L599.83 557.06 L600.09 547.7 L600.34 537.86 L600.6 528.08 L600.85 518.91 L601.11 510.87 L601.36 504.4 L601.61 499.86 L601.87 497.5 L602.12 497.47 L602.38 499.75 L602.63 504.23 L602.89 510.65 L603.14 518.65 L603.39 527.79 L603.65 537.56 L603.9 547.41 L604.16 556.79 L604.41 565.18 L604.67 572.11 L604.92 577.2 L605.18 580.15 L605.43 580.81 L605.68 579.13 L605.94 575.22 L606.19 569.29 L606.45 561.66 L606.7 552.78 L606.96 543.13 L607.21 533.24 L607.46 523.68 L607.72 514.98 L607.97 507.62 L608.23 502.01 L608.48 498.47 L608.74 497.2 L608.99 498.25 L609.24 501.59 L609.5 507.01 L609.75 514.22 L610.01 522.82 L610.26 532.32 L610.52 542.19 L610.77 551.89 L611.02 560.87 L611.28 568.63 L611.53 574.74 L611.79 578.86 L612.04 580.75 L612.3 580.31 L612.55 577.57 L612.81 572.68 L613.06 565.91 L613.31 557.64 L613.57 548.33 L613.82 538.5 L614.08 528.7 L614.33 519.47 L614.59 511.34 L614.84 504.76 L615.09 500.08 L615.35 497.59 L615.6 497.4 L615.86 499.54 L616.11 503.88 L616.37 510.19 L616.62 518.1 L616.87 527.18 L617.13 536.93 L617.38 546.79 L617.64 556.22 L617.89 564.68 L618.15 571.72 L618.4 576.93 L618.65 580.03 L618.91 580.84 L619.16 579.31 L619.42 575.54 L619.67 569.72 L619.93 562.2 L620.18 553.38 L620.44 543.76 L620.69 533.87 L620.94 524.28 L621.2 515.5 L621.45 508.04 L621.71 502.31 L621.96 498.63 L622.22 497.21 L622.47 498.12 L622.72 501.31 L622.98 506.61 L623.23 513.71 L623.49 522.23 L623.74 531.69 L624 541.56 L624.25 551.29 L624.5 560.33 L624.76 568.18 L625.01 574.41 L625.27 578.66 L625.52 580.7 L625.78 580.41 L626.03 577.81 L626.28 573.05 L626.54 566.39 L626.79 558.2 L627.05 548.94 L627.3 539.13 L627.56 529.31 L627.81 520.04 L628.07 511.82 L628.32 505.13 L628.57 500.32 L628.83 497.68 L629.08 497.34 L629.34 499.33 L629.59 503.54 L629.85 509.73 L630.1 517.55 L630.35 526.57 L630.61 536.29 L630.86 546.16 L631.12 555.63 L631.37 564.18 L631.63 571.32 L631.88 576.66 L632.13 579.9 L632.39 580.85 L632.64 579.48 L632.9 575.84 L633.15 570.15 L633.41 562.72 L633.66 553.97 L633.91 544.39 L634.17 534.51 L634.42 524.87 L634.68 516.03 L634.93 508.48 L635.19 502.62 L635.44 498.8 L635.7 497.23 L635.95 497.99 L636.2 501.04 L636.46 506.21 L636.71 513.21 L636.97 521.65 L637.22 531.07 L637.48 540.92 L637.73 550.68 L637.98 559.78 L638.24 567.72 L638.49 574.06 L638.75 578.45 L639 580.64 L639.26 580.5 L639.51 578.05 L639.76 573.42 L640.02 566.87 L640.27 558.77 L640.53 549.56 L640.78 539.77 L641.04 529.93 L641.29 520.61 L641.54 512.31 L641.8 505.5 L642.05 500.57 L642.31 497.78 L642.56 497.29 L642.82 499.14 L643.07 503.21 L643.33 509.28 L643.58 517.01 L643.83 525.97 L644.09 535.66 L644.34 545.53 L644.6 555.05 L644.85 563.67 L645.11 570.91 L645.36 576.38 L645.61 579.76 L645.87 580.86 L646.12 579.63 L646.38 576.14 L646.63 570.57 L646.89 563.25 L647.14 554.57 L647.39 545.02 L647.65 535.14 L647.9 525.47 L648.16 516.57 L648.41 508.91 L648.67 502.94 L648.92 498.98 L649.17 497.26 L649.43 497.87 L649.68 500.77 L649.94 505.82 L650.19 512.71 L650.45 521.08 L650.7 530.44 L650.96 540.29 L651.21 550.06 L651.46 559.22 L651.72 567.25 L651.97 573.71 L652.23 578.23 L652.48 580.56 L652.74 580.58 L652.99 578.27 L653.24 573.78 L653.5 567.34 L653.75 559.32 L654.01 550.18 L654.26 540.4 L654.52 530.56 L654.77 521.18 L655.02 512.8 L655.28 505.89 L655.53 500.82 L655.79 497.89 L656.04 497.25 L656.3 498.95 L656.55 502.88 L656.8 508.83 L657.06 516.47 L657.31 525.36 L657.57 535.02 L657.82 544.9 L658.08 554.46 L658.33 563.15 L658.59 570.5 L658.84 576.09 L659.09 579.61 L659.35 580.86 L659.6 579.78 L659.86 576.43 L660.11 570.99 L660.37 563.76 L660.62 555.16 L660.87 545.65 L661.13 535.77 L661.38 526.08 L661.64 517.11 L661.89 509.36 L662.15 503.27 L662.4 499.17 L662.65 497.3 L662.91 497.76 L663.16 500.52 L663.42 505.43 L663.67 512.22 L663.93 520.5 L664.18 529.82 L664.43 539.65 L664.69 549.45 L664.94 558.66 L665.2 566.78 L665.45 573.35 L665.71 578.01 L665.96 580.48 L666.22 580.65 L666.47 578.49 L666.72 574.13 L666.98 567.81 L667.23 559.88 L667.49 550.79 L667.74 541.04 L668 531.18 L668.25 521.76 L668.5 513.3 L668.76 506.28 L669.01 501.09 L669.27 498.01 L669.52 497.22 L669.78 498.77 L670.03 502.57 L670.28 508.4 L670.54 515.94 L670.79 524.76 L671.05 534.39 L671.3 544.27 L671.56 553.86 L671.81 562.63 L672.07 570.07 L672.32 575.79 L672.57 579.45 L672.83 580.85 L673.08 579.92 L673.34 576.71 L673.59 571.39 L673.85 564.27 L674.1 555.74 L674.35 546.28 L674.61 536.41 L674.86 526.68 L675.12 517.65 L675.37 509.81 L675.63 503.6 L675.88 499.37 L676.13 497.35 L676.39 497.66 L676.64 500.28 L676.9 505.06 L677.15 511.73 L677.41 519.93 L677.66 529.2 L677.91 539.02 L678.17 548.83 L678.42 558.1 L678.68 566.3 L678.93 572.98 L679.19 577.77 L679.44 580.39 L679.7 580.71 L679.95 578.7 L680.2 574.47 L680.46 568.26 L680.71 560.43 L680.97 551.4 L681.22 541.68 L681.48 531.81 L681.73 522.34 L681.98 513.81 L682.24 506.68 L682.49 501.36 L682.75 498.14 L683 497.2 L683.26 498.6 L683.51 502.26 L683.76 507.97 L684.02 515.41 L684.27 524.17 L684.53 533.76 L684.78 543.64 L685.04 553.27 L685.29 562.1 L685.54 569.64 L685.8 575.48 L686.05 579.28 L686.31 580.83 L686.56 580.05 L686.82 576.98 L687.07 571.79 L687.33 564.78 L687.58 556.32 L687.83 546.9 L688.09 537.04 L688.34 527.29 L688.6 518.2 L688.85 510.27 L689.11 503.94 L689.36 499.58 L689.61 497.41 L689.87 497.57 L690.12 500.04 L690.38 504.69 L690.63 511.26 L690.89 519.37 L691.14 528.58 L691.39 538.38 L691.65 548.21 L691.9 557.53 L692.16 565.82 L692.41 572.61 L692.67 577.53 L692.92 580.29 L693.17 580.76 L693.43 578.89 L693.68 574.8 L693.94 568.72 L694.19 560.97 L694.45 552 L694.7 542.31 L694.96 532.43 L695.21 522.93 L695.46 514.32 L695.72 507.09 L695.97 501.64 L696.23 498.28 L696.48 497.19 L696.74 498.44 L696.99 501.96 L697.24 507.54 L697.5 514.89 L697.75 523.58 L698.01 533.13 L698.26 543.01 L698.52 552.67 L698.77 561.57 L699.02 569.21 L699.28 575.16 L699.53 579.1 L699.79 580.8 L700.04 580.17 L700.3 577.25 L700.55 572.19 L700.8 565.27 L701.06 556.9 L701.31 547.53 L701.57 537.68 L701.82 527.91 L702.08 518.75 L702.33 510.74 L702.59 504.29 L702.84 499.79 L703.09 497.48 L703.35 497.49 L703.6 499.82 L703.86 504.33 L704.11 510.78 L704.37 518.81 L704.62 527.97 L704.87 537.74 L705.13 547.59 L705.38 556.96 L705.64 565.33 L705.89 572.23 L706.15 577.27 L706.4 580.18 L706.65 580.8 L706.91 579.08 L707.16 575.13 L707.42 569.16 L707.67 561.51 L707.93 552.61 L708.18 542.94 L708.43 533.06 L708.69 523.51 L708.94 514.83 L709.2 507.5 L709.45 501.93 L709.71 498.43 L709.96 497.19 L710.22 498.29 L710.47 501.67 L710.72 507.13 L710.98 514.37 L711.23 522.99 L711.49 532.5 L711.74 542.38 L712 552.07 L712.25 561.03 L712.5 568.76 L712.76 574.84 L713.01 578.91 L713.27 580.76 L713.52 580.28 L713.78 577.5 L714.03 572.57 L714.28 565.77 L714.54 557.47 L714.79 548.15 L715.05 538.31 L715.3 528.52 L715.56 519.31 L715.81 511.21 L716.06 504.65 L716.32 500.02 L716.57 497.56 L716.83 497.42 L717.08 499.6 L717.34 503.98 L717.59 510.32 L717.85 518.26 L718.1 527.36 L718.35 537.11 L718.61 546.97 L718.86 556.38 L719.12 564.83 L719.37 571.83 L719.63 577.01 L719.88 580.06 L720.13 580.83 L720.39 579.26 L720.64 575.45 L720.9 569.6 L721.15 562.05 L721.41 553.21 L721.66 543.58 L721.91 533.69 L722.17 524.11 L722.42 515.35 L722.68 507.92 L722.93 502.23 L723.19 498.59 L723.44 497.2 L723.69 498.15 L723.95 501.39 L724.2 506.72 L724.46 513.86 L724.71 522.4 L724.97 531.87 L725.22 541.74 L725.48 551.46 L725.73 560.48 L725.98 568.31 L726.24 574.5 L726.49 578.72 L726.75 580.71 L727 580.38 L727.26 577.75 L727.51 572.95 L727.76 566.25 L728.02 558.04 L728.27 548.77 L728.53 538.95 L728.78 529.14 L729.04 519.88 L729.29 511.69 L729.54 505.02 L729.8 500.25 L730.05 497.65 L730.31 497.36 L730.56 499.39 L730.82 503.64 L731.07 509.86 L731.32 517.71 L731.58 526.75 L731.83 536.47 L732.09 546.34 L732.34 555.8 L732.6 564.32 L732.85 571.44 L733.11 576.74 L733.36 579.94 L733.61 580.85 L733.87 579.43 L734.12 575.76 L734.38 570.03 L734.63 562.57 L734.89 553.8 L735.14 544.21 L735.39 534.33 L735.65 524.7 L735.9 515.88 L736.16 508.35 L736.41 502.53 L736.67 498.75 L736.92 497.22 L737.17 498.02 L737.43 501.11 L737.68 506.32 L737.94 513.35 L738.19 521.82 L738.45 531.24 L738.7 541.11 L738.95 550.85 L739.21 559.94 L739.46 567.85 L739.72 574.16 L739.97 578.51 L740.23 580.65 L740.48 580.47 L740.74 577.98 L740.99 573.31 L741.24 566.73 L741.5 558.61 L741.75 549.39 L742.01 539.59 L742.26 529.76 L742.52 520.45 L742.77 512.17 L743.02 505.39 L743.28 500.5 L743.53 497.75 L743.79 497.31 L744.04 499.19 L744.3 503.3 L744.55 509.4 L744.8 517.16 L745.06 526.14 L745.31 535.84 L745.57 545.71 L745.82 555.22 L746.08 563.81 L746.33 571.03 L746.58 576.46 L746.84 579.8 L747.09 580.86 L747.35 579.59 L747.6 576.06 L747.86 570.45 L748.11 563.1 L748.37 554.4 L748.62 544.84 L748.87 534.96 L749.13 525.3 L749.38 516.41 L749.64 508.79 L749.89 502.85 L750.15 498.93 L750.4 497.25 L750.65 497.9 L750.91 500.85 L751.16 505.93 L751.42 512.85 L751.67 521.24 L751.93 530.62 L752.18 540.47 L752.43 550.24 L752.69 559.38 L752.94 567.39 L753.2 573.81 L753.45 578.3 L753.71 580.59 L753.96 580.56 L754.21 578.21 L754.47 573.68 L754.72 567.21 L754.98 559.17 L755.23 550 L755.49 540.22 L755.74 530.38 L756 521.02 L756.25 512.66 L756.5 505.78 L756.76 500.75 L757.01 497.86 L757.27 497.26 L757.52 499 L757.78 502.97 L758.03 508.96 L758.28 516.62 L758.54 525.54 L758.79 535.2 L759.05 545.08 L759.3 554.63 L759.56 563.3 L759.81 570.62 L760.06 576.17 L760.32 579.65 L760.57 580.86 L760.83 579.74 L761.08 576.35 L761.34 570.87 L761.59 563.61 L761.84 554.99 L762.1 545.47 L762.35 535.59 L762.61 525.91 L762.86 516.95 L763.12 509.23 L763.37 503.17 L763.62 499.12 L763.88 497.29 L764.13 497.79 L764.39 500.59 L764.64 505.54 L764.9 512.36 L765.15 520.67 L765.41 530 L765.66 539.83 L765.91 549.62 L766.17 558.82 L766.42 566.92 L766.68 573.46 L766.93 578.07 L767.19 580.51 L767.44 580.63 L767.69 578.43 L767.95 574.03 L768.2 567.67 L768.46 559.72 L768.71 550.61 L768.97 540.86 L769.22 531 L769.47 521.59 L769.73 513.16 L769.98 506.17 L770.24 501.01 L770.49 497.98 L770.75 497.23 L771 498.82 L771.25 502.66 L771.51 508.52 L771.76 516.09 L772.02 524.94 L772.27 534.57 L772.53 544.45 L772.78 554.03 L773.04 562.78 L773.29 570.19 L773.54 575.87 L773.8 579.49 L774.05 580.86 L774.31 579.88 L774.56 576.63 L774.82 571.28 L775.07 564.13 L775.32 555.57 L775.58 546.1 L775.83 536.23 L776.09 526.51 L776.34 517.5 L776.6 509.68 L776.85 503.51 L777.1 499.31 L777.36 497.34 L777.61 497.69 L777.87 500.35 L778.12 505.16 L778.38 511.87 L778.63 520.1 L778.88 529.38 L779.14 539.2 L779.39 549.01 L779.65 558.26 L779.9 566.44 L780.16 573.09 L780.41 577.84 L780.67 580.42 L780.92 580.69 L781.17 578.64 L781.43 574.37 L781.68 568.13 L781.94 560.27 L782.19 551.22 L782.45 541.49 L782.7 531.63 L782.95 522.17 L783.21 513.66 L783.46 506.56 L783.72 501.28 L783.97 498.1 L784.23 497.21 L784.48 498.65 L784.73 502.35 L784.99 508.09 L785.24 515.56 L785.5 524.34 L785.75 533.94 L786.01 543.82 L786.26 553.44 L786.51 562.25 L786.77 569.77 L787.02 575.57 L787.28 579.33 L787.53 580.84 L787.79 580.02 L788.04 576.91 L788.3 571.68 L788.55 564.63 L788.8 556.16 L789.06 546.72 L789.31 536.86 L789.57 527.12 L789.82 518.04 L790.08 510.14 L790.33 503.85 L790.58 499.52 L790.84 497.39 L791.09 497.59 L791.35 500.11 L791.6 504.79 L791.86 511.39 L792.11 519.53 L792.36 528.76 L792.62 538.56 L792.87 548.39 L793.13 557.69 L793.38 565.96 L793.64 572.72 L793.89 577.6 L794.14 580.32 L794.4 580.74 L794.65 578.84 L794.91 574.71 L795.16 568.59 L795.42 560.82 L795.67 551.83 L795.93 542.13 L796.18 532.25 L796.43 522.76 L796.69 514.17 L796.94 506.97 L797.2 501.56 L797.45 498.24 L797.71 497.2 L797.96 498.49 L798.21 502.04 L798.47 507.66 L798.72 515.03 L798.98 523.74 L799.23 533.31 L799.49 543.19 L799.74 552.84 L799.99 561.72 L800.25 569.33 L800.5 575.25 L800.76 579.15 L801.01 580.81 L801.27 580.14 L801.52 577.17 L801.77 572.07 L802.03 565.13 L802.28 556.73 L802.54 547.35 L802.79 537.5 L803.05 527.73 L803.3 518.6 L803.56 510.6 L803.81 504.19 L804.06 499.73 L804.32 497.46 L804.57 497.51 L804.83 499.88 L805.08 504.43 L805.34 510.92 L805.59 518.97 L805.84 528.14 L806.1 537.93 L806.35 547.77 L806.61 557.12 L806.86 565.47 L807.12 572.34 L807.37 577.34 L807.62 580.22 L807.88 580.79 L808.13 579.03 L808.39 575.04 L808.64 569.03 L808.9 561.36 L809.15 552.43 L809.4 542.76 L809.66 532.88 L809.91 523.35 L810.17 514.68 L810.42 507.38 L810.68 501.85 L810.93 498.38 L811.19 497.19 L811.44 498.34 L811.69 501.75 L811.95 507.25 L812.2 514.52 L812.46 523.15 L812.71 532.68 L812.97 542.56 L813.22 552.24 L813.47 561.18 L813.73 568.89 L813.98 574.93 L814.24 578.97 L814.49 580.77 L814.75 580.25 L815 577.43 L815.25 572.46 L815.51 565.63 L815.76 557.31 L816.02 547.97 L816.27 538.13 L816.53 528.34 L816.78 519.15 L817.03 511.07 L817.29 504.55 L817.54 499.95 L817.8 497.54 L818.05 497.44 L818.31 499.66 L818.56 504.08 L818.82 510.45 L819.07 518.42 L819.32 527.53 L819.58 537.29 L819.83 547.14 L820.09 556.55 L820.34 564.97 L820.6 571.95 L820.85 577.09 L821.1 580.1 L821.36 580.82 L821.61 579.21 L821.87 575.36 L822.12 569.47 L822.38 561.89 L822.63 553.04 L822.88 543.4 L823.14 533.51 L823.39 523.94 L823.65 515.2 L823.9 507.8 L824.16 502.14 L824.41 498.54 L824.66 497.2 L824.92 498.19 L825.17 501.47 L825.43 506.84 L825.68 514 L825.94 522.57 L826.19 532.05 L826.45 541.92 L826.7 551.63 L826.95 560.64 L827.21 568.44 L827.46 574.6 L827.72 578.77 L827.97 580.73 L828.23 580.36 L828.48 577.68 L828.73 572.84 L828.99 566.12 L829.24 557.88 L829.5 548.59 L829.75 538.77 L830.01 528.96 L830.26 519.72 L830.51 511.55 L830.77 504.91 L831.02 500.19 L831.28 497.62 L831.53 497.37 L831.79 499.45 L832.04 503.73 L832.29 509.99 L832.55 517.86 L832.8 526.92 L833.06 536.65 L833.31 546.52 L833.57 555.97 L833.82 564.47 L834.08 571.55 L834.33 576.82 L834.58 579.97 L834.84 580.85 L835.09 579.38 L835.35 575.67 L835.6 569.91 L835.86 562.42 L836.11 553.63 L836.36 544.03 L836.62 534.14 L836.87 524.53 L837.13 515.73 L837.38 508.23 L837.64 502.45 L837.89 498.71 L838.14 497.22 L838.4 498.06 L838.65 501.19 L838.91 506.43 L839.16 513.5 L839.42 521.98 L839.67 531.42 L839.92 541.29 L840.18 551.02 L840.43 560.09 L840.69 567.98 L840.94 574.26 L841.2 578.57 L841.45 580.67 L841.71 580.45 L841.96 577.92 L842.21 573.21 L842.47 566.6 L842.72 558.44 L842.98 549.21 L843.23 539.41 L843.49 529.58 L843.74 520.28 L843.99 512.03 L844.25 505.29 L844.5 500.43 L844.76 497.72 L845.01 497.32 L845.27 499.25 L845.52 503.4 L845.77 509.53 L846.03 517.32 L846.28 526.31 L846.54 536.02 L846.79 545.89 L847.05 555.38 L847.3 563.96 L847.55 571.15 L847.81 576.54 L848.06 579.84 L848.32 580.86 L848.57 579.55 L848.83 575.97 L849.08 570.33 L849.34 562.95 L849.59 554.23 L849.84 544.66 L850.1 534.78 L850.35 525.13 L850.61 516.26 L850.86 508.66 L851.12 502.76 L851.37 498.88 L851.62 497.24 L851.88 497.94 L852.13 500.92 L852.39 506.04 L852.64 513 L852.9 521.4 L853.15 530.8 L853.4 540.65 L853.66 550.41 L853.91 559.54 L854.17 567.52 L854.42 573.91 L854.68 578.36 L854.93 580.61 L855.18 580.53 L855.44 578.15 L855.69 573.57 L855.95 567.07 L856.2 559.01 L856.46 549.83 L856.71 540.04 L856.97 530.2 L857.22 520.85 L857.47 512.52 L857.73 505.67 L857.98 500.68 L858.24 497.83 L858.49 497.28 L858.75 499.06 L859 503.07" fill="none" stroke="#ff00ff" stroke-width="5.1" stroke-linejoin="round" stroke-linecap="round"/>
<path d="M96.03 455.36 L96.03 371.69 L96.27 371.69 L96.27 455.36 L102.78 455.36 L102.78 371.69 L103.02 371.69 L103.02 455.36 L109.53 455.36 L109.53 371.69 L109.77 371.69 L109.77 455.36 L116.27 455.36 L116.27 371.69 L116.51 371.69 L116.51 455.36 L123.02 455.36 L123.02 371.69 L123.26 371.69 L123.26 455.36 L129.77 455.36 L129.77 371.69 L130.01 371.69 L130.01 455.36 L136.52 455.36 L136.52 371.69 L136.76 371.69 L136.76 455.36 L143.27 455.36 L143.27 371.69 L143.51 371.69 L143.51 455.36 L150.01 455.36 L150.01 371.69 L150.25 371.69 L150.25 455.36 L156.76 455.36 L156.76 371.69 L157 371.69 L157 455.36 L163.51 455.36 L163.51 371.69 L163.75 371.69 L163.75 455.36 L170.26 455.36 L170.26 371.69 L170.5 371.69 L170.5 455.36 L177.01 455.36 L177.01 371.69 L177.25 371.69 L177.25 455.36 L183.75 455.36 L183.75 371.69 L183.99 371.69 L183.99 455.36 L190.5 455.36 L190.5 371.69 L190.74 371.69 L190.74 455.36 L197.25 455.36 L197.25 371.69 L197.49 371.69 L197.49 455.36 L204 455.36 L204 371.69 L204.24 371.69 L204.24 455.36 L210.75 455.36 L210.75 371.69 L210.99 371.69 L210.99 455.36 L217.49 455.36 L217.49 371.69 L217.73 371.69 L217.73 455.36 L224.24 455.36 L224.24 371.69 L224.48 371.69 L224.48 455.36 L230.99 455.36 L230.99 371.69 L231.23 371.69 L231.23 455.36 L237.74 455.36 L237.74 371.69 L237.98 371.69 L237.98 455.36 L244.49 455.36 L244.49 371.69 L244.73 371.69 L244.73 455.36 L251.23 455.36 L251.23 371.69 L251.47 371.69 L251.47 455.36 L257.98 455.36 L257.98 371.69 L258.22 371.69 L258.22 455.36 L264.73 455.36 L264.73 371.69 L264.97 371.69 L264.97 455.36 L271.48 455.36 L271.48 371.69 L271.72 371.69 L271.72 455.36 L278.23 455.36 L278.23 371.69 L278.47 371.69 L278.47 455.36 L284.97 455.36 L284.97 371.69 L285.21 371.69 L285.21 455.36 L291.72 455.36 L291.72 371.69 L291.96 371.69 L291.96 455.36 L298.47 455.36 L298.47 371.69 L298.71 371.69 L298.71 455.36 L305.22 455.36 L305.22 371.69 L305.46 371.69 L305.46 455.36 L311.97 455.36 L311.97 371.69 L312.21 371.69 L312.21 455.36 L318.71 455.36 L318.71 371.69 L318.95 371.69 L318.95 455.36 L325.46 455.36 L325.46 371.69 L325.7 371.69 L325.7 455.36 L332.21 455.36 L332.21 371.69 L332.45 371.69 L332.45 455.36 L338.96 455.36 L338.96 371.69 L339.2 371.69 L339.2 455.36 L345.71 455.36 L345.71 371.69 L345.95 371.69 L345.95 455.36 L352.45 455.36 L352.45 371.69 L352.69 371.69 L352.69 455.36 L359.2 455.36 L359.2 371.69 L359.44 371.69 L359.44 455.36 L365.95 455.36 L365.95 371.69 L366.19 371.69 L366.19 455.36 L372.7 455.36 L372.7 371.69 L372.94 371.69 L372.94 455.36 L379.45 455.36 L379.45 371.69 L379.69 371.69 L379.69 455.36 L386.19 455.36 L386.19 371.69 L386.43 371.69 L386.43 455.36 L392.94 455.36 L392.94 371.69 L393.18 371.69 L393.18 455.36 L399.69 455.36 L399.69 371.69 L399.93 371.69 L399.93 455.36 L406.44 455.36 L406.44 371.69 L406.68 371.69 L406.68 455.36 L413.19 455.36 L413.19 371.69 L413.43 371.69 L413.43 455.36 L419.93 455.36 L419.93 371.69 L420.17 371.69 L420.17 455.36 L426.68 455.36 L426.68 371.69 L426.92 371.69 L426.92 455.36 L433.43 455.36 L433.43 371.69 L433.67 371.69 L433.67 455.36 L440.18 455.36 L440.18 371.69 L440.42 371.69 L440.42 455.36 L446.93 455.36 L446.93 371.69 L447.17 371.69 L447.17 455.36 L453.67 455.36 L453.67 371.69 L453.91 371.69 L453.91 455.36 L460.42 455.36 L460.42 371.69 L460.66 371.69 L460.66 455.36 L467.17 455.36 L467.17 371.69 L467.41 371.69 L467.41 455.36 L473.92 455.36 L473.92 371.69 L474.16 371.69 L474.16 455.36 L480.67 455.36 L480.67 371.69 L480.91 371.69 L480.91 455.36 L487.41 455.36 L487.41 371.69 L487.65 371.69 L487.65 455.36 L494.16 455.36 L494.16 371.69 L494.4 371.69 L494.4 455.36 L500.91 455.36 L500.91 371.69 L501.15 371.69 L501.15 455.36 L507.66 455.36 L507.66 371.69 L507.9 371.69 L507.9 455.36 L514.41 455.36 L514.41 371.69 L514.65 371.69 L514.65 455.36 L521.15 455.36 L521.15 371.69 L521.39 371.69 L521.39 455.36 L527.9 455.36 L527.9 371.69 L528.14 371.69 L528.14 455.36 L534.65 455.36 L534.65 371.69 L534.89 371.69 L534.89 455.36 L541.4 455.36 L541.4 371.69 L541.64 371.69 L541.64 455.36 L548.15 455.36 L548.15 371.69 L548.39 371.69 L548.39 455.36 L554.89 455.36 L554.89 371.69 L555.13 371.69 L555.13 455.36 L561.64 455.36 L561.64 371.69 L561.88 371.69 L561.88 455.36 L568.39 455.36 L568.39 371.69 L568.63 371.69 L568.63 455.36 L575.14 455.36 L575.14 371.69 L575.38 371.69 L575.38 455.36 L581.89 455.36 L581.89 371.69 L582.13 371.69 L582.13 455.36 L588.63 455.36 L588.63 371.69 L588.87 371.69 L588.87 455.36 L595.38 455.36 L595.38 371.69 L595.62 371.69 L595.62 455.36 L602.13 455.36 L602.13 371.69 L602.37 371.69 L602.37 455.36 L608.88 455.36 L608.88 371.69 L609.12 371.69 L609.12 455.36 L615.63 455.36 L615.63 371.69 L615.87 371.69 L615.87 455.36 L622.37 455.36 L622.37 371.69 L622.61 371.69 L622.61 455.36 L629.12 455.36 L629.12 371.69 L629.36 371.69 L629.36 455.36 L635.87 455.36 L635.87 371.69 L636.11 371.69 L636.11 455.36 L642.62 455.36 L642.62 371.69 L642.86 371.69 L642.86 455.36 L649.37 455.36 L649.37 371.69 L649.61 371.69 L649.61 455.36 L656.11 455.36 L656.11 371.69 L656.35 371.69 L656.35 455.36 L662.86 455.36 L662.86 371.69 L663.1 371.69 L663.1 455.36 L669.61 455.36 L669.61 371.69 L669.85 371.69 L669.85 455.36 L676.36 455.36 L676.36 371.69 L676.6 371.69 L676.6 455.36 L683.11 455.36 L683.11 371.69 L683.35 371.69 L683.35 455.36 L689.85 455.36 L689.85 371.69 L690.09 371.69 L690.09 455.36 L696.6 455.36 L696.6 371.69 L696.84 371.69 L696.84 455.36 L703.35 455.36 L703.35 371.69 L703.59 371.69 L703.59 455.36 L710.1 455.36 L710.1 371.69 L710.34 371.69 L710.34 455.36 L716.85 455.36 L716.85 371.69 L717.09 371.69 L717.09 455.36 L723.59 455.36 L723.59 371.69 L723.83 371.69 L723.83 455.36 L730.34 455.36 L730.34 371.69 L730.58 371.69 L730.58 455.36 L737.09 455.36 L737.09 371.69 L737.33 371.69 L737.33 455.36 L743.84 455.36 L743.84 371.69 L744.08 371.69 L744.08 455.36 L750.59 455.36 L750.59 371.69 L750.83 371.69 L750.83 455.36 L757.33 455.36 L757.33 371.69 L757.57 371.69 L757.57 455.36 L764.08 455.36 L764.08 371.69 L764.32 371.69 L764.32 455.36 L770.83 455.36 L770.83 371.69 L771.07 371.69 L771.07 455.36 L777.58 455.36 L777.58 371.69 L777.82 371.69 L777.82 455.36 L784.33 455.36 L784.33 371.69 L784.57 371.69 L784.57 455.36 L791.07 455.36 L791.07 371.69 L791.31 371.69 L791.31 455.36 L797.82 455.36 L797.82 371.69 L798.06 371.69 L798.06 455.36 L804.57 455.36 L804.57 371.69 L804.81 371.69 L804.81 455.36 L811.32 455.36 L811.32 371.69 L811.56 371.69 L811.56 455.36 L818.07 455.36 L818.07 371.69 L818.31 371.69 L818.31 455.36 L824.81 455.36 L824.81 371.69 L825.05 371.69 L825.05 455.36 L831.56 455.36 L831.56 371.69 L831.8 371.69 L831.8 455.36 L838.31 455.36 L838.31 371.69 L838.55 371.69 L838.55 455.36 L845.06 455.36 L845.06 371.69 L845.3 371.69 L845.3 455.36 L851.81 455.36 L851.81 371.69 L852.05 371.69 L852.05 455.36 L858.55 455.36 L858.55 371.69" fill="none" stroke="#00ffff" stroke-width="5.1" stroke-linejoin="round" stroke-linecap="butt"/>
<path d="M96 329.85 L128.44 329.85 L128.44 246.18 L254.61 246.18 L254.61 329.85 L509.94 329.85 L509.94 246.18 L636.11 246.18 L636.11 329.85 L859 329.85" fill="none" stroke="#0000ff" stroke-width="5.1" stroke-linejoin="round" stroke-linecap="butt"/>
<path d="M96 162.51 L97.91 162.53 L99.81 162.59 L101.72 162.69 L103.63 162.84 L105.54 163.02 L107.44 163.25 L109.35 163.51 L111.26 163.82 L113.17 164.17 L115.08 164.55 L116.98 164.98 L118.89 165.44 L120.8 165.95 L122.7 166.49 L124.61 167.07 L126.52 167.68 L128.43 168.33 L130.34 169.02 L132.24 169.74 L134.15 170.5 L136.06 171.29 L137.97 172.11 L139.87 172.96 L141.78 173.85 L143.69 174.76 L145.59 175.7 L147.5 176.68 L149.41 177.68 L151.32 178.7 L153.22 179.75 L155.13 180.83 L157.04 181.93 L158.95 183.05 L160.85 184.19 L162.76 185.35 L164.67 186.53 L166.58 187.73 L168.49 188.94 L170.39 190.17 L172.3 191.41 L174.21 192.67 L176.12 193.94 L178.02 195.22 L179.93 196.5 L181.84 197.8 L183.75 199.1 L185.65 200.41 L187.56 201.72 L189.47 203.03 L191.38 204.34 L193.28 205.66 L195.19 206.97 L197.1 208.28 L199 209.59 L200.91 210.89 L202.82 212.18 L204.73 213.47 L206.63 214.75 L208.54 216.01 L210.45 217.27 L212.36 218.51 L214.27 219.74 L216.17 220.96 L218.08 222.16 L219.99 223.34 L221.9 224.5 L223.8 225.64 L225.71 226.76 L227.62 227.86 L229.53 228.93 L231.43 229.98 L233.34 231.01 L235.25 232.01 L237.16 232.98 L239.06 233.93 L240.97 234.84 L242.88 235.72 L244.78 236.58 L246.69 237.4 L248.6 238.19 L250.51 238.94 L252.41 239.67 L254.32 240.35 L256.23 241 L258.14 241.62 L260.05 242.2 L261.95 242.74 L263.86 243.24 L265.77 243.71 L267.68 244.13 L269.58 244.52 L271.49 244.86 L273.4 245.17 L275.31 245.44 L277.21 245.66 L279.12 245.85 L281.03 245.99 L282.94 246.1 L284.84 246.16 L286.75 246.18 L288.66 246.16 L290.56 246.1 L292.47 245.99 L294.38 245.85 L296.29 245.66 L298.19 245.44 L300.1 245.17 L302.01 244.86 L303.92 244.52 L305.82 244.13 L307.73 243.71 L309.64 243.24 L311.55 242.74 L313.46 242.2 L315.36 241.62 L317.27 241 L319.18 240.35 L321.08 239.67 L322.99 238.94 L324.9 238.19 L326.81 237.4 L328.72 236.58 L330.62 235.72 L332.53 234.84 L334.44 233.93 L336.34 232.98 L338.25 232.01 L340.16 231.01 L342.07 229.98 L343.98 228.93 L345.88 227.86 L347.79 226.76 L349.7 225.64 L351.61 224.5 L353.51 223.34 L355.42 222.16 L357.33 220.96 L359.24 219.74 L361.14 218.51 L363.05 217.27 L364.96 216.01 L366.87 214.75 L368.77 213.47 L370.68 212.18 L372.59 210.89 L374.5 209.59 L376.4 208.28 L378.31 206.97 L380.22 205.66 L382.12 204.34 L384.03 203.03 L385.94 201.72 L387.85 200.41 L389.75 199.1 L391.66 197.8 L393.57 196.5 L395.48 195.22 L397.38 193.94 L399.29 192.67 L401.2 191.41 L403.11 190.17 L405.01 188.94 L406.92 187.73 L408.83 186.53 L410.74 185.35 L412.65 184.19 L414.55 183.05 L416.46 181.93 L418.37 180.83 L420.27 179.75 L422.18 178.7 L424.09 177.68 L426 176.68 L427.9 175.7 L429.81 174.76 L431.72 173.85 L433.63 172.96 L435.53 172.11 L437.44 171.29 L439.35 170.5 L441.26 169.74 L443.17 169.02 L445.07 168.33 L446.98 167.68 L448.89 167.07 L450.8 166.49 L452.7 165.95 L454.61 165.44 L456.52 164.98 L458.43 164.55 L460.33 164.17 L462.24 163.82 L464.15 163.51 L466.05 163.25 L467.96 163.02 L469.87 162.84 L471.78 162.69 L473.69 162.59 L475.59 162.53 L477.5 162.51 L479.41 162.53 L481.31 162.59 L483.22 162.69 L485.13 162.84 L487.04 163.02 L488.95 163.25 L490.85 163.51 L492.76 163.82 L494.67 164.17 L496.57 164.55 L498.48 164.98 L500.39 165.44 L502.3 165.95 L504.2 166.49 L506.11 167.07 L508.02 167.68 L509.93 168.33 L511.84 169.02 L513.74 169.74 L515.65 170.5 L517.56 171.29 L519.46 172.11 L521.37 172.96 L523.28 173.85 L525.19 174.76 L527.1 175.7 L529 176.68 L530.91 177.68 L532.82 178.7 L534.73 179.75 L536.63 180.83 L538.54 181.93 L540.45 183.05 L542.36 184.19 L544.26 185.35 L546.17 186.53 L548.08 187.73 L549.99 188.94 L551.89 190.17 L553.8 191.41 L555.71 192.67 L557.62 193.94 L559.52 195.22 L561.43 196.5 L563.34 197.8 L565.25 199.1 L567.15 200.41 L569.06 201.72 L570.97 203.03 L572.88 204.34 L574.78 205.66 L576.69 206.97 L578.6 208.28 L580.5 209.59 L582.41 210.89 L584.32 212.18 L586.23 213.47 L588.13 214.75 L590.04 216.01 L591.95 217.27 L593.86 218.51 L595.76 219.74 L597.67 220.96 L599.58 222.16 L601.49 223.34 L603.39 224.5 L605.3 225.64 L607.21 226.76 L609.12 227.86 L611.02 228.93 L612.93 229.98 L614.84 231.01 L616.75 232.01 L618.65 232.98 L620.56 233.93 L622.47 234.84 L624.38 235.72 L626.29 236.58 L628.19 237.4 L630.1 238.19 L632.01 238.94 L633.91 239.67 L635.82 240.35 L637.73 241 L639.64 241.62 L641.54 242.2 L643.45 242.74 L645.36 243.24 L647.27 243.71 L649.17 244.13 L651.08 244.52 L652.99 244.86 L654.9 245.17 L656.81 245.44 L658.71 245.66 L660.62 245.85 L662.53 245.99 L664.44 246.1 L666.34 246.16 L668.25 246.18 L670.16 246.16 L672.06 246.1 L673.97 245.99 L675.88 245.85 L677.79 245.66 L679.69 245.44 L681.6 245.17 L683.51 244.86 L685.42 244.52 L687.33 244.13 L689.23 243.71 L691.14 243.24 L693.05 242.74 L694.96 242.2 L696.86 241.62 L698.77 241 L700.68 240.35 L702.59 239.67 L704.49 238.94 L706.4 238.19 L708.31 237.4 L710.22 236.58 L712.12 235.72 L714.03 234.84 L715.94 233.93 L717.85 232.98 L719.75 232.01 L721.66 231.01 L723.57 229.98 L725.48 228.93 L727.38 227.86 L729.29 226.76 L731.2 225.64 L733.11 224.5 L735.01 223.34 L736.92 222.16 L738.83 220.96 L740.73 219.74 L742.64 218.51 L744.55 217.27 L746.46 216.01 L748.37 214.75 L750.27 213.47 L752.18 212.18 L754.09 210.89 L756 209.59 L757.9 208.28 L759.81 206.97 L761.72 205.66 L763.62 204.34 L765.53 203.03 L767.44 201.72 L769.35 200.41 L771.25 199.1 L773.16 197.8 L775.07 196.5 L776.98 195.22 L778.88 193.94 L780.79 192.67 L782.7 191.41 L784.61 190.17 L786.52 188.94 L788.42 187.73 L790.33 186.53 L792.24 185.35 L794.14 184.19 L796.05 183.05 L797.96 181.93 L799.87 180.83 L801.77 179.75 L803.68 178.7 L805.59 177.68 L807.5 176.68 L809.4 175.7 L811.31 174.76 L813.22 173.85 L815.13 172.96 L817.03 172.11 L818.94 171.29 L820.85 170.5 L822.76 169.74 L824.67 169.02 L826.57 168.33 L828.48 167.68 L830.39 167.07 L832.29 166.49 L834.2 165.95 L836.11 165.44 L838.02 164.98 L839.92 164.55 L841.83 164.17 L843.74 163.82 L845.65 163.51 L847.56 163.25 L849.46 163.02 L851.37 162.84 L853.28 162.69 L855.18 162.59 L857.09 162.53 L859 162.51" fill="none" stroke="#ff0000" stroke-width="5.1" stroke-linejoin="round" stroke-linecap="butt"/>
<path d="M152 61.3H222.9" stroke="#ff0000" stroke-width="5.4" fill="none"/>
<text class="lg" text-anchor="start" transform="translate(227.5 71.5) scale(1 1.02)">x-axis position</text>
<path d="M152 97.4H222.9" stroke="#0000ff" stroke-width="5.4" fill="none"/>
<text class="lg" text-anchor="start" transform="translate(227.5 107.6) scale(1 1.02)">Pixel enable of RM</text>
<path d="M152 133.3H222.9" stroke="#00ffff" stroke-width="5.4" fill="none"/>
<text class="lg" text-anchor="start" transform="translate(227.5 143.5) scale(1 1.02)">TTL of TAG lens</text>
<path d="M152 169.1H222.9" stroke="#ff00ff" stroke-width="5.4" fill="none"/>
<text class="lg" text-anchor="start" transform="translate(227.5 179.3) scale(1 1.02)">z-axis position</text>
<text class="pn" x="0" y="38.7">(a)</text>
<rect x="1008.0" y="37.0" width="763.0" height="585.7" fill="none" stroke="#262626" stroke-width="1.7"/>
<path d="M1008.0 539.03h8.3 M1771.0 539.03h-8.3 M1008.0 455.36h8.3 M1771.0 455.36h-8.3 M1008.0 371.69h8.3 M1771.0 371.69h-8.3 M1008.0 288.01h8.3 M1771.0 288.01h-8.3 M1008.0 204.34h8.3 M1771.0 204.34h-8.3 M1008.0 120.67h8.3 M1771.0 120.67h-8.3 M1130.08 622.7v-8.3 M1130.08 37.0v8.3 M1252.16 622.7v-8.3 M1252.16 37.0v8.3 M1374.24 622.7v-8.3 M1374.24 37.0v8.3 M1496.32 622.7v-8.3 M1496.32 37.0v8.3 M1618.4 622.7v-8.3 M1618.4 37.0v8.3 M1740.48 622.7v-8.3 M1740.48 37.0v8.3 " fill="none" stroke="#262626" stroke-width="1.3"/>
<text class="tk" text-anchor="end" transform="translate(996.5 634.6) scale(1 1.07)">0</text>
<text class="tk" text-anchor="end" transform="translate(996.5 550.93) scale(1 1.07)">1</text>
<text class="tk" text-anchor="end" transform="translate(996.5 467.26) scale(1 1.07)">2</text>
<text class="tk" text-anchor="end" transform="translate(996.5 383.59) scale(1 1.07)">3</text>
<text class="tk" text-anchor="end" transform="translate(996.5 299.91) scale(1 1.07)">4</text>
<text class="tk" text-anchor="end" transform="translate(996.5 216.24) scale(1 1.07)">5</text>
<text class="tk" text-anchor="end" transform="translate(996.5 132.57) scale(1 1.07)">6</text>
<text class="tk" text-anchor="end" transform="translate(996.5 48.9) scale(1 1.07)">7</text>
<text class="tk" text-anchor="middle" transform="translate(1007.8 665.2) scale(1 1.07)">1.25</text>
<text class="tk" text-anchor="middle" transform="translate(1129.88 665.2) scale(1 1.07)">1.3</text>
<text class="tk" text-anchor="middle" transform="translate(1251.96 665.2) scale(1 1.07)">1.35</text>
<text class="tk" text-anchor="middle" transform="translate(1374.04 665.2) scale(1 1.07)">1.4</text>
<text class="tk" text-anchor="middle" transform="translate(1496.12 665.2) scale(1 1.07)">1.45</text>
<text class="tk" text-anchor="middle" transform="translate(1618.2 665.2) scale(1 1.07)">1.5</text>
<text class="tk" text-anchor="middle" transform="translate(1740.28 665.2) scale(1 1.07)">1.55</text>
<text class="lb" text-anchor="middle" transform="translate(1389 710.2) scale(1 1.0)">Time (μs)</text>
<text class="lb" text-anchor="middle" transform="translate(961.8 330.45) rotate(-90) scale(1 1.0)">Signal (A.U.)</text>
<text class="tm" text-anchor="start" transform="translate(1687.9 716) scale(1 1.0)">×</text>
<text class="tk" text-anchor="start" transform="translate(1712.6 714.1) scale(1 1.07)">10</text>
<text class="sp" text-anchor="start" transform="translate(1748.7 699.6) scale(1 1.04)">-4</text>
<path d="M1008 580.84 L1008.64 580.61 L1009.27 580.15 L1009.91 579.47 L1010.54 578.57 L1011.18 577.45 L1011.82 576.12 L1012.45 574.59 L1013.09 572.87 L1013.72 570.96 L1014.36 568.87 L1014.99 566.63 L1015.63 564.23 L1016.27 561.69 L1016.9 559.03 L1017.54 556.27 L1018.17 553.4 L1018.81 550.46 L1019.45 547.46 L1020.08 544.41 L1020.72 541.33 L1021.35 538.24 L1021.99 535.15 L1022.62 532.08 L1023.26 529.06 L1023.9 526.08 L1024.53 523.18 L1025.17 520.36 L1025.8 517.65 L1026.44 515.05 L1027.08 512.58 L1027.71 510.26 L1028.35 508.1 L1028.98 506.1 L1029.62 504.29 L1030.25 502.66 L1030.89 501.23 L1031.53 500.01 L1032.16 499 L1032.8 498.21 L1033.43 497.65 L1034.07 497.31 L1034.7 497.19 L1035.34 497.31 L1035.98 497.65 L1036.61 498.22 L1037.25 499.02 L1037.88 500.03 L1038.52 501.25 L1039.16 502.68 L1039.79 504.31 L1040.43 506.13 L1041.06 508.13 L1041.7 510.3 L1042.34 512.62 L1042.97 515.09 L1043.61 517.69 L1044.24 520.41 L1044.88 523.22 L1045.51 526.13 L1046.15 529.1 L1046.79 532.13 L1047.42 535.2 L1048.06 538.29 L1048.69 541.38 L1049.33 544.46 L1049.96 547.51 L1050.6 550.51 L1051.24 553.45 L1051.87 556.31 L1052.51 559.08 L1053.14 561.73 L1053.78 564.27 L1054.42 566.66 L1055.05 568.91 L1055.69 570.99 L1056.32 572.9 L1056.96 574.62 L1057.6 576.14 L1058.23 577.47 L1058.87 578.58 L1059.5 579.48 L1060.14 580.16 L1060.77 580.61 L1061.41 580.84 L1062.05 580.83 L1062.68 580.6 L1063.32 580.14 L1063.95 579.46 L1064.59 578.56 L1065.22 577.44 L1065.86 576.11 L1066.5 574.58 L1067.13 572.85 L1067.77 570.94 L1068.4 568.85 L1069.04 566.61 L1069.68 564.21 L1070.31 561.67 L1070.95 559.01 L1071.58 556.24 L1072.22 553.38 L1072.86 550.43 L1073.49 547.43 L1074.13 544.38 L1074.76 541.3 L1075.4 538.21 L1076.03 535.12 L1076.67 532.06 L1077.31 529.03 L1077.94 526.06 L1078.58 523.15 L1079.21 520.34 L1079.85 517.62 L1080.48 515.03 L1081.12 512.56 L1081.76 510.24 L1082.39 508.08 L1083.03 506.08 L1083.66 504.27 L1084.3 502.64 L1084.94 501.22 L1085.57 500 L1086.21 498.99 L1086.84 498.21 L1087.48 497.64 L1088.12 497.3 L1088.75 497.19 L1089.39 497.31 L1090.02 497.66 L1090.66 498.23 L1091.29 499.02 L1091.93 500.04 L1092.57 501.26 L1093.2 502.7 L1093.84 504.33 L1094.47 506.15 L1095.11 508.15 L1095.74 510.32 L1096.38 512.64 L1097.02 515.11 L1097.65 517.72 L1098.29 520.43 L1098.92 523.25 L1099.56 526.16 L1100.2 529.13 L1100.83 532.16 L1101.47 535.23 L1102.1 538.32 L1102.74 541.41 L1103.38 544.49 L1104.01 547.53 L1104.65 550.54 L1105.28 553.48 L1105.92 556.34 L1106.55 559.1 L1107.19 561.76 L1107.83 564.29 L1108.46 566.68 L1109.1 568.93 L1109.73 571.01 L1110.37 572.91 L1111.01 574.63 L1111.64 576.16 L1112.28 577.48 L1112.91 578.59 L1113.55 579.49 L1114.18 580.16 L1114.82 580.61 L1115.46 580.84 L1116.09 580.83 L1116.73 580.6 L1117.36 580.14 L1118 579.45 L1118.63 578.55 L1119.27 577.43 L1119.91 576.1 L1120.54 574.56 L1121.18 572.83 L1121.81 570.92 L1122.45 568.83 L1123.09 566.58 L1123.72 564.18 L1124.36 561.65 L1124.99 558.98 L1125.63 556.21 L1126.27 553.35 L1126.9 550.41 L1127.54 547.4 L1128.17 544.35 L1128.81 541.27 L1129.44 538.18 L1130.08 535.09 L1130.72 532.03 L1131.35 529 L1131.99 526.03 L1132.62 523.13 L1133.26 520.31 L1133.89 517.6 L1134.53 515 L1135.17 512.54 L1135.8 510.22 L1136.44 508.06 L1137.07 506.07 L1137.71 504.25 L1138.35 502.63 L1138.98 501.21 L1139.62 499.99 L1140.25 498.99 L1140.89 498.2 L1141.53 497.64 L1142.16 497.3 L1142.8 497.19 L1143.43 497.31 L1144.07 497.66 L1144.7 498.24 L1145.34 499.03 L1145.98 500.05 L1146.61 501.28 L1147.25 502.71 L1147.88 504.34 L1148.52 506.17 L1149.15 508.17 L1149.79 510.34 L1150.43 512.67 L1151.06 515.14 L1151.7 517.74 L1152.33 520.46 L1152.97 523.28 L1153.61 526.18 L1154.24 529.16 L1154.88 532.19 L1155.51 535.26 L1156.15 538.34 L1156.79 541.44 L1157.42 544.51 L1158.06 547.56 L1158.69 550.56 L1159.33 553.5 L1159.96 556.36 L1160.6 559.13 L1161.24 561.78 L1161.87 564.31 L1162.51 566.71 L1163.14 568.95 L1163.78 571.03 L1164.41 572.93 L1165.05 574.65 L1165.69 576.17 L1166.32 577.49 L1166.96 578.6 L1167.59 579.5 L1168.23 580.17 L1168.87 580.62 L1169.5 580.84 L1170.14 580.83 L1170.77 580.6 L1171.41 580.13 L1172.05 579.45 L1172.68 578.54 L1173.32 577.42 L1173.95 576.08 L1174.59 574.55 L1175.22 572.82 L1175.86 570.9 L1176.5 568.81 L1177.13 566.56 L1177.77 564.16 L1178.4 561.62 L1179.04 558.96 L1179.67 556.19 L1180.31 553.32 L1180.95 550.38 L1181.58 547.38 L1182.22 544.32 L1182.85 541.24 L1183.49 538.15 L1184.13 535.07 L1184.76 532 L1185.4 528.97 L1186.03 526 L1186.67 523.1 L1187.31 520.29 L1187.94 517.58 L1188.58 514.98 L1189.21 512.52 L1189.85 510.2 L1190.48 508.04 L1191.12 506.05 L1191.76 504.24 L1192.39 502.62 L1193.03 501.19 L1193.66 499.98 L1194.3 498.98 L1194.93 498.19 L1195.57 497.63 L1196.21 497.3 L1196.84 497.19 L1197.48 497.32 L1198.11 497.67 L1198.75 498.24 L1199.39 499.04 L1200.02 500.06 L1200.66 501.29 L1201.29 502.73 L1201.93 504.36 L1202.57 506.18 L1203.2 508.19 L1203.84 510.36 L1204.47 512.69 L1205.11 515.16 L1205.74 517.76 L1206.38 520.48 L1207.02 523.3 L1207.65 526.21 L1208.29 529.19 L1208.92 532.22 L1209.56 535.28 L1210.19 538.37 L1210.83 541.46 L1211.47 544.54 L1212.1 547.59 L1212.74 550.59 L1213.37 553.53 L1214.01 556.39 L1214.65 559.15 L1215.28 561.81 L1215.92 564.34 L1216.55 566.73 L1217.19 568.97 L1217.83 571.04 L1218.46 572.95 L1219.1 574.66 L1219.73 576.18 L1220.37 577.5 L1221 578.61 L1221.64 579.5 L1222.28 580.17 L1222.91 580.62 L1223.55 580.84 L1224.18 580.83 L1224.82 580.59 L1225.45 580.13 L1226.09 579.44 L1226.73 578.53 L1227.36 577.4 L1228 576.07 L1228.63 574.53 L1229.27 572.8 L1229.91 570.88 L1230.54 568.79 L1231.18 566.54 L1231.81 564.14 L1232.45 561.6 L1233.09 558.93 L1233.72 556.16 L1234.36 553.3 L1234.99 550.35 L1235.63 547.35 L1236.26 544.3 L1236.9 541.22 L1237.54 538.12 L1238.17 535.04 L1238.81 531.97 L1239.44 528.95 L1240.08 525.98 L1240.71 523.07 L1241.35 520.26 L1241.99 517.55 L1242.62 514.96 L1243.26 512.5 L1243.89 510.18 L1244.53 508.02 L1245.17 506.03 L1245.8 504.22 L1246.44 502.6 L1247.07 501.18 L1247.71 499.97 L1248.35 498.97 L1248.98 498.19 L1249.62 497.63 L1250.25 497.3 L1250.89 497.19 L1251.52 497.32 L1252.16 497.67 L1252.8 498.25 L1253.43 499.05 L1254.07 500.07 L1254.7 501.3 L1255.34 502.74 L1255.97 504.38 L1256.61 506.2 L1257.25 508.21 L1257.88 510.38 L1258.52 512.71 L1259.15 515.18 L1259.79 517.79 L1260.43 520.51 L1261.06 523.33 L1261.7 526.24 L1262.33 529.21 L1262.97 532.24 L1263.61 535.31 L1264.24 538.4 L1264.88 541.49 L1265.51 544.57 L1266.15 547.62 L1266.78 550.62 L1267.42 553.56 L1268.06 556.41 L1268.69 559.18 L1269.33 561.83 L1269.96 564.36 L1270.6 566.75 L1271.24 568.99 L1271.87 571.06 L1272.51 572.96 L1273.14 574.68 L1273.78 576.2 L1274.41 577.51 L1275.05 578.62 L1275.69 579.51 L1276.32 580.18 L1276.96 580.62 L1277.59 580.84 L1278.23 580.83 L1278.87 580.59 L1279.5 580.12 L1280.14 579.43 L1280.77 578.52 L1281.41 577.39 L1282.04 576.06 L1282.68 574.52 L1283.32 572.78 L1283.95 570.87 L1284.59 568.77 L1285.22 566.52 L1285.86 564.12 L1286.49 561.57 L1287.13 558.91 L1287.77 556.14 L1288.4 553.27 L1289.04 550.33 L1289.67 547.32 L1290.31 544.27 L1290.95 541.19 L1291.58 538.1 L1292.22 535.01 L1292.85 531.94 L1293.49 528.92 L1294.12 525.95 L1294.76 523.05 L1295.4 520.24 L1296.03 517.53 L1296.67 514.94 L1297.3 512.47 L1297.94 510.16 L1298.58 508 L1299.21 506.01 L1299.85 504.21 L1300.48 502.59 L1301.12 501.17 L1301.76 499.96 L1302.39 498.96 L1303.03 498.18 L1303.66 497.63 L1304.3 497.3 L1304.93 497.19 L1305.57 497.32 L1306.21 497.67 L1306.84 498.25 L1307.48 499.06 L1308.11 500.08 L1308.75 501.31 L1309.38 502.75 L1310.02 504.39 L1310.66 506.22 L1311.29 508.23 L1311.93 510.4 L1312.56 512.73 L1313.2 515.21 L1313.84 517.81 L1314.47 520.53 L1315.11 523.36 L1315.74 526.26 L1316.38 529.24 L1317.01 532.27 L1317.65 535.34 L1318.29 538.43 L1318.92 541.52 L1319.56 544.6 L1320.19 547.65 L1320.83 550.65 L1321.47 553.58 L1322.1 556.44 L1322.74 559.2 L1323.37 561.85 L1324.01 564.38 L1324.64 566.77 L1325.28 569.01 L1325.92 571.08 L1326.55 572.98 L1327.19 574.69 L1327.82 576.21 L1328.46 577.52 L1329.1 578.63 L1329.73 579.52 L1330.37 580.18 L1331 580.63 L1331.64 580.84 L1332.28 580.83 L1332.91 580.59 L1333.55 580.12 L1334.18 579.43 L1334.82 578.51 L1335.45 577.38 L1336.09 576.04 L1336.73 574.5 L1337.36 572.77 L1338 570.85 L1338.63 568.75 L1339.27 566.5 L1339.9 564.09 L1340.54 561.55 L1341.18 558.88 L1341.81 556.11 L1342.45 553.24 L1343.08 550.3 L1343.72 547.29 L1344.36 544.24 L1344.99 541.16 L1345.63 538.07 L1346.26 534.98 L1346.9 531.92 L1347.54 528.89 L1348.17 525.92 L1348.81 523.02 L1349.44 520.21 L1350.08 517.5 L1350.71 514.91 L1351.35 512.45 L1351.99 510.14 L1352.62 507.98 L1353.26 506 L1353.89 504.19 L1354.53 502.57 L1355.16 501.16 L1355.8 499.95 L1356.44 498.95 L1357.07 498.18 L1357.71 497.62 L1358.34 497.29 L1358.98 497.19 L1359.62 497.32 L1360.25 497.68 L1360.89 498.26 L1361.52 499.07 L1362.16 500.09 L1362.8 501.33 L1363.43 502.77 L1364.07 504.41 L1364.7 506.24 L1365.34 508.25 L1365.97 510.42 L1366.61 512.75 L1367.25 515.23 L1367.88 517.84 L1368.52 520.56 L1369.15 523.38 L1369.79 526.29 L1370.42 529.27 L1371.06 532.3 L1371.7 535.37 L1372.33 538.46 L1372.97 541.55 L1373.6 544.63 L1374.24 547.67 L1374.88 550.67 L1375.51 553.61 L1376.15 556.47 L1376.78 559.23 L1377.42 561.88 L1378.06 564.4 L1378.69 566.79 L1379.33 569.03 L1379.96 571.1 L1380.6 573 L1381.23 574.71 L1381.87 576.22 L1382.51 577.54 L1383.14 578.64 L1383.78 579.52 L1384.41 580.19 L1385.05 580.63 L1385.68 580.84 L1386.32 580.83 L1386.96 580.58 L1387.59 580.11 L1388.23 579.42 L1388.86 578.5 L1389.5 577.37 L1390.14 576.03 L1390.77 574.49 L1391.41 572.75 L1392.04 570.83 L1392.68 568.73 L1393.32 566.48 L1393.95 564.07 L1394.59 561.53 L1395.22 558.86 L1395.86 556.08 L1396.49 553.22 L1397.13 550.27 L1397.77 547.26 L1398.4 544.21 L1399.04 541.13 L1399.67 538.04 L1400.31 534.95 L1400.94 531.89 L1401.58 528.86 L1402.22 525.89 L1402.85 523 L1403.49 520.19 L1404.12 517.48 L1404.76 514.89 L1405.4 512.43 L1406.03 510.12 L1406.67 507.96 L1407.3 505.98 L1407.94 504.17 L1408.58 502.56 L1409.21 501.15 L1409.85 499.94 L1410.48 498.94 L1411.12 498.17 L1411.75 497.62 L1412.39 497.29 L1413.03 497.19 L1413.66 497.32 L1414.3 497.68 L1414.93 498.27 L1415.57 499.07 L1416.2 500.1 L1416.84 501.34 L1417.48 502.78 L1418.11 504.42 L1418.75 506.25 L1419.38 508.26 L1420.02 510.44 L1420.66 512.78 L1421.29 515.25 L1421.93 517.86 L1422.56 520.59 L1423.2 523.41 L1423.84 526.32 L1424.47 529.3 L1425.11 532.33 L1425.74 535.4 L1426.38 538.49 L1427.01 541.58 L1427.65 544.65 L1428.29 547.7 L1428.92 550.7 L1429.56 553.64 L1430.19 556.49 L1430.83 559.25 L1431.46 561.9 L1432.1 564.43 L1432.74 566.81 L1433.37 569.05 L1434.01 571.12 L1434.64 573.01 L1435.28 574.72 L1435.92 576.24 L1436.55 577.55 L1437.19 578.65 L1437.82 579.53 L1438.46 580.19 L1439.1 580.63 L1439.73 580.84 L1440.37 580.83 L1441 580.58 L1441.64 580.11 L1442.27 579.41 L1442.91 578.49 L1443.55 577.36 L1444.18 576.02 L1444.82 574.47 L1445.45 572.73 L1446.09 570.81 L1446.72 568.71 L1447.36 566.46 L1448 564.05 L1448.63 561.5 L1449.27 558.83 L1449.9 556.06 L1450.54 553.19 L1451.18 550.24 L1451.81 547.24 L1452.45 544.18 L1453.08 541.1 L1453.72 538.01 L1454.36 534.92 L1454.99 531.86 L1455.63 528.84 L1456.26 525.87 L1456.9 522.97 L1457.53 520.16 L1458.17 517.45 L1458.81 514.87 L1459.44 512.41 L1460.08 510.1 L1460.71 507.95 L1461.35 505.96 L1461.99 504.16 L1462.62 502.55 L1463.26 501.13 L1463.89 499.93 L1464.53 498.94 L1465.16 498.16 L1465.8 497.61 L1466.44 497.29 L1467.07 497.19 L1467.71 497.33 L1468.34 497.69 L1468.98 498.27 L1469.62 499.08 L1470.25 500.11 L1470.89 501.35 L1471.52 502.8 L1472.16 504.44 L1472.79 506.27 L1473.43 508.28 L1474.07 510.46 L1474.7 512.8 L1475.34 515.28 L1475.97 517.89 L1476.61 520.61 L1477.24 523.44 L1477.88 526.35 L1478.52 529.32 L1479.15 532.36 L1479.79 535.43 L1480.42 538.51 L1481.06 541.6 L1481.7 544.68 L1482.33 547.73 L1482.97 550.73 L1483.6 553.66 L1484.24 556.52 L1484.88 559.28 L1485.51 561.92 L1486.15 564.45 L1486.78 566.83 L1487.42 569.07 L1488.05 571.13 L1488.69 573.03 L1489.33 574.74 L1489.96 576.25 L1490.6 577.56 L1491.23 578.66 L1491.87 579.54 L1492.51 580.2 L1493.14 580.64 L1493.78 580.84 L1494.41 580.83 L1495.05 580.58 L1495.68 580.1 L1496.32 579.4 L1496.96 578.48 L1497.59 577.35 L1498.23 576 L1498.86 574.46 L1499.5 572.72 L1500.13 570.79 L1500.77 568.69 L1501.41 566.43 L1502.04 564.02 L1502.68 561.48 L1503.31 558.81 L1503.95 556.03 L1504.59 553.16 L1505.22 550.22 L1505.86 547.21 L1506.49 544.16 L1507.13 541.07 L1507.76 537.98 L1508.4 534.9 L1509.04 531.83 L1509.67 528.81 L1510.31 525.84 L1510.94 522.94 L1511.58 520.14 L1512.22 517.43 L1512.85 514.84 L1513.49 512.39 L1514.12 510.08 L1514.76 507.93 L1515.39 505.94 L1516.03 504.14 L1516.67 502.53 L1517.3 501.12 L1517.94 499.92 L1518.57 498.93 L1519.21 498.16 L1519.85 497.61 L1520.48 497.29 L1521.12 497.19 L1521.75 497.33 L1522.39 497.69 L1523.03 498.28 L1523.66 499.09 L1524.3 500.12 L1524.93 501.36 L1525.57 502.81 L1526.2 504.46 L1526.84 506.29 L1527.48 508.3 L1528.11 510.48 L1528.75 512.82 L1529.38 515.3 L1530.02 517.91 L1530.65 520.64 L1531.29 523.46 L1531.93 526.37 L1532.56 529.35 L1533.2 532.38 L1533.83 535.45 L1534.47 538.54 L1535.11 541.63 L1535.74 544.71 L1536.38 547.76 L1537.01 550.75 L1537.65 553.69 L1538.28 556.54 L1538.92 559.3 L1539.56 561.95 L1540.19 564.47 L1540.83 566.85 L1541.46 569.09 L1542.1 571.15 L1542.74 573.04 L1543.37 574.75 L1544.01 576.26 L1544.64 577.57 L1545.28 578.67 L1545.91 579.55 L1546.55 580.2 L1547.19 580.64 L1547.82 580.85 L1548.46 580.82 L1549.09 580.57 L1549.73 580.1 L1550.37 579.4 L1551 578.47 L1551.64 577.34 L1552.27 575.99 L1552.91 574.44 L1553.55 572.7 L1554.18 570.77 L1554.82 568.67 L1555.45 566.41 L1556.09 564 L1556.72 561.45 L1557.36 558.78 L1558 556.01 L1558.63 553.14 L1559.27 550.19 L1559.9 547.18 L1560.54 544.13 L1561.17 541.05 L1561.81 537.95 L1562.45 534.87 L1563.08 531.81 L1563.72 528.78 L1564.35 525.81 L1564.99 522.92 L1565.63 520.11 L1566.26 517.41 L1566.9 514.82 L1567.53 512.37 L1568.17 510.06 L1568.8 507.91 L1569.44 505.93 L1570.08 504.13 L1570.71 502.52 L1571.35 501.11 L1571.98 499.91 L1572.62 498.92 L1573.26 498.15 L1573.89 497.61 L1574.53 497.29 L1575.16 497.19 L1575.8 497.33 L1576.43 497.7 L1577.07 498.29 L1577.71 499.1 L1578.34 500.13 L1578.98 501.37 L1579.61 502.82 L1580.25 504.47 L1580.89 506.31 L1581.52 508.32 L1582.16 510.5 L1582.79 512.84 L1583.43 515.32 L1584.07 517.94 L1584.7 520.66 L1585.34 523.49 L1585.97 526.4 L1586.61 529.38 L1587.24 532.41 L1587.88 535.48 L1588.52 538.57 L1589.15 541.66 L1589.79 544.74 L1590.42 547.78 L1591.06 550.78 L1591.7 553.71 L1592.33 556.57 L1592.97 559.33 L1593.6 561.97 L1594.24 564.49 L1594.87 566.88 L1595.51 569.11 L1596.15 571.17 L1596.78 573.06 L1597.42 574.77 L1598.05 576.27 L1598.69 577.58 L1599.33 578.67 L1599.96 579.55 L1600.6 580.21 L1601.23 580.64 L1601.87 580.85 L1602.5 580.82 L1603.14 580.57 L1603.78 580.09 L1604.41 579.39 L1605.05 578.46 L1605.68 577.32 L1606.32 575.98 L1606.95 574.43 L1607.59 572.68 L1608.23 570.75 L1608.86 568.65 L1609.5 566.39 L1610.13 563.98 L1610.77 561.43 L1611.41 558.76 L1612.04 555.98 L1612.68 553.11 L1613.31 550.16 L1613.95 547.15 L1614.59 544.1 L1615.22 541.02 L1615.86 537.93 L1616.49 534.84 L1617.13 531.78 L1617.76 528.75 L1618.4 525.79 L1619.04 522.89 L1619.67 520.08 L1620.31 517.38 L1620.94 514.8 L1621.58 512.34 L1622.22 510.04 L1622.85 507.89 L1623.49 505.91 L1624.12 504.11 L1624.76 502.51 L1625.39 501.1 L1626.03 499.9 L1626.67 498.91 L1627.3 498.14 L1627.94 497.6 L1628.57 497.28 L1629.21 497.19 L1629.85 497.33 L1630.48 497.7 L1631.12 498.29 L1631.75 499.11 L1632.39 500.14 L1633.02 501.39 L1633.66 502.84 L1634.3 504.49 L1634.93 506.33 L1635.57 508.34 L1636.2 510.53 L1636.84 512.87 L1637.47 515.35 L1638.11 517.96 L1638.75 520.69 L1639.38 523.51 L1640.02 526.43 L1640.65 529.41 L1641.29 532.44 L1641.93 535.51 L1642.56 538.6 L1643.2 541.69 L1643.83 544.77 L1644.47 547.81 L1645.11 550.81 L1645.74 553.74 L1646.38 556.59 L1647.01 559.35 L1647.65 562 L1648.28 564.52 L1648.92 566.9 L1649.56 569.13 L1650.19 571.19 L1650.83 573.08 L1651.46 574.78 L1652.1 576.29 L1652.74 577.59 L1653.37 578.68 L1654.01 579.56 L1654.64 580.21 L1655.28 580.64 L1655.91 580.85 L1656.55 580.82 L1657.19 580.57 L1657.82 580.09 L1658.46 579.38 L1659.09 578.45 L1659.73 577.31 L1660.37 575.96 L1661 574.41 L1661.64 572.67 L1662.27 570.74 L1662.91 568.63 L1663.54 566.37 L1664.18 563.96 L1664.82 561.41 L1665.45 558.73 L1666.09 555.96 L1666.72 553.08 L1667.36 550.13 L1667.99 547.12 L1668.63 544.07 L1669.27 540.99 L1669.9 537.9 L1670.54 534.81 L1671.17 531.75 L1671.81 528.73 L1672.45 525.76 L1673.08 522.87 L1673.72 520.06 L1674.35 517.36 L1674.99 514.77 L1675.62 512.32 L1676.26 510.02 L1676.9 507.87 L1677.53 505.89 L1678.17 504.1 L1678.8 502.49 L1679.44 501.09 L1680.08 499.89 L1680.71 498.9 L1681.35 498.14 L1681.98 497.6 L1682.62 497.28 L1683.26 497.19 L1683.89 497.34 L1684.53 497.7 L1685.16 498.3 L1685.8 499.12 L1686.43 500.15 L1687.07 501.4 L1687.71 502.85 L1688.34 504.5 L1688.98 506.34 L1689.61 508.36 L1690.25 510.55 L1690.88 512.89 L1691.52 515.37 L1692.16 517.98 L1692.79 520.71 L1693.43 523.54 L1694.06 526.45 L1694.7 529.43 L1695.34 532.47 L1695.97 535.54 L1696.61 538.63 L1697.24 541.72 L1697.88 544.79 L1698.51 547.84 L1699.15 550.84 L1699.79 553.77 L1700.42 556.62 L1701.06 559.38 L1701.69 562.02 L1702.33 564.54 L1702.97 566.92 L1703.6 569.14 L1704.24 571.21 L1704.87 573.09 L1705.51 574.79 L1706.14 576.3 L1706.78 577.6 L1707.42 578.69 L1708.05 579.57 L1708.69 580.22 L1709.32 580.65 L1709.96 580.85 L1710.6 580.82 L1711.23 580.56 L1711.87 580.08 L1712.5 579.37 L1713.14 578.45 L1713.78 577.3 L1714.41 575.95 L1715.05 574.4 L1715.68 572.65 L1716.32 570.72 L1716.95 568.61 L1717.59 566.35 L1718.23 563.93 L1718.86 561.38 L1719.5 558.71 L1720.13 555.93 L1720.77 553.06 L1721.4 550.11 L1722.04 547.1 L1722.68 544.04 L1723.31 540.96 L1723.95 537.87 L1724.58 534.78 L1725.22 531.72 L1725.86 528.7 L1726.49 525.73 L1727.13 522.84 L1727.76 520.03 L1728.4 517.33 L1729.03 514.75 L1729.67 512.3 L1730.31 510 L1730.94 507.85 L1731.58 505.88 L1732.21 504.08 L1732.85 502.48 L1733.49 501.07 L1734.12 499.88 L1734.76 498.9 L1735.39 498.13 L1736.03 497.59 L1736.66 497.28 L1737.3 497.19 L1737.94 497.34 L1738.57 497.71 L1739.21 498.31 L1739.84 499.13 L1740.48 500.16 L1741.12 501.41 L1741.75 502.87 L1742.39 504.52 L1743.02 506.36 L1743.66 508.38 L1744.3 510.57 L1744.93 512.91 L1745.57 515.39 L1746.2 518.01 L1746.84 520.74 L1747.47 523.57 L1748.11 526.48 L1748.75 529.46 L1749.38 532.5 L1750.02 535.57 L1750.65 538.66 L1751.29 541.75 L1751.92 544.82 L1752.56 547.87 L1753.2 550.86 L1753.83 553.79 L1754.47 556.65 L1755.1 559.4 L1755.74 562.04 L1756.38 564.56 L1757.01 566.94 L1757.65 569.16 L1758.28 571.23 L1758.92 573.11 L1759.55 574.81 L1760.19 576.31 L1760.83 577.61 L1761.46 578.7 L1762.1 579.57 L1762.73 580.22 L1763.37 580.65 L1764.01 580.85 L1764.64 580.82 L1765.28 580.56 L1765.91 580.07 L1766.55 579.37 L1767.18 578.44 L1767.82 577.29 L1768.46 575.94 L1769.09 574.38 L1769.73 572.63 L1770.36 570.7 L1771 568.59" fill="none" stroke="#ff00ff" stroke-width="5.1" stroke-linejoin="round" stroke-linecap="butt"/>
<path d="M1008 455.36 L1033.25 455.36 L1033.25 371.69 L1036.15 371.69 L1036.15 455.36 L1087.29 455.36 L1087.29 371.69 L1090.19 371.69 L1090.19 455.36 L1141.33 455.36 L1141.33 371.69 L1144.23 371.69 L1144.23 455.36 L1195.37 455.36 L1195.37 371.69 L1198.27 371.69 L1198.27 455.36 L1249.41 455.36 L1249.41 371.69 L1252.31 371.69 L1252.31 455.36 L1303.45 455.36 L1303.45 371.69 L1306.35 371.69 L1306.35 455.36 L1357.49 455.36 L1357.49 371.69 L1360.39 371.69 L1360.39 455.36 L1411.53 455.36 L1411.53 371.69 L1414.43 371.69 L1414.43 455.36 L1465.57 455.36 L1465.57 371.69 L1468.47 371.69 L1468.47 455.36 L1519.61 455.36 L1519.61 371.69 L1522.51 371.69 L1522.51 455.36 L1573.65 455.36 L1573.65 371.69 L1576.55 371.69 L1576.55 455.36 L1627.69 455.36 L1627.69 371.69 L1630.59 371.69 L1630.59 455.36 L1681.73 455.36 L1681.73 371.69 L1684.63 371.69 L1684.63 455.36 L1735.77 455.36 L1735.77 371.69 L1738.67 371.69 L1738.67 455.36 L1771 455.36" fill="none" stroke="#00ffff" stroke-width="5.1" stroke-linejoin="round" stroke-linecap="butt"/>
<path d="M1008 329.85 L1267.5 329.85 L1267.5 246.18 L1771 246.18" fill="none" stroke="#0000ff" stroke-width="5.1" stroke-linejoin="round" stroke-linecap="butt"/>
<path d="M1008 162.51 L1011.81 162.51 L1015.63 162.51 L1019.44 162.52 L1023.26 162.53 L1027.08 162.54 L1030.89 162.55 L1034.71 162.57 L1038.52 162.59 L1042.34 162.61 L1046.15 162.64 L1049.96 162.66 L1053.78 162.69 L1057.59 162.73 L1061.41 162.76 L1065.22 162.8 L1069.04 162.84 L1072.86 162.88 L1076.67 162.92 L1080.49 162.97 L1084.3 163.02 L1088.11 163.07 L1091.93 163.13 L1095.74 163.19 L1099.56 163.25 L1103.38 163.31 L1107.19 163.38 L1111.01 163.44 L1114.82 163.51 L1118.64 163.59 L1122.45 163.66 L1126.26 163.74 L1130.08 163.82 L1133.89 163.9 L1137.71 163.99 L1141.53 164.08 L1145.34 164.17 L1149.16 164.26 L1152.97 164.36 L1156.79 164.45 L1160.6 164.55 L1164.41 164.66 L1168.23 164.76 L1172.04 164.87 L1175.86 164.98 L1179.67 165.09 L1183.49 165.21 L1187.31 165.33 L1191.12 165.44 L1194.94 165.57 L1198.75 165.69 L1202.56 165.82 L1206.38 165.95 L1210.19 166.08 L1214.01 166.21 L1217.83 166.35 L1221.64 166.49 L1225.46 166.63 L1229.27 166.77 L1233.09 166.92 L1236.9 167.07 L1240.71 167.22 L1244.53 167.37 L1248.34 167.52 L1252.16 167.68 L1255.97 167.84 L1259.79 168 L1263.61 168.17 L1267.42 168.33 L1271.24 168.5 L1275.05 168.67 L1278.86 168.84 L1282.68 169.02 L1286.49 169.2 L1290.31 169.38 L1294.12 169.56 L1297.94 169.74 L1301.76 169.93 L1305.57 170.11 L1309.39 170.3 L1313.2 170.5 L1317.01 170.69 L1320.83 170.89 L1324.64 171.09 L1328.46 171.29 L1332.28 171.49 L1336.09 171.69 L1339.91 171.9 L1343.72 172.11 L1347.54 172.32 L1351.35 172.53 L1355.16 172.75 L1358.98 172.96 L1362.79 173.18 L1366.61 173.4 L1370.42 173.62 L1374.24 173.85 L1378.06 174.07 L1381.87 174.3 L1385.69 174.53 L1389.5 174.76 L1393.31 174.99 L1397.13 175.23 L1400.94 175.47 L1404.76 175.7 L1408.58 175.94 L1412.39 176.19 L1416.21 176.43 L1420.02 176.68 L1423.84 176.92 L1427.65 177.17 L1431.46 177.42 L1435.28 177.68 L1439.09 177.93 L1442.91 178.19 L1446.72 178.44 L1450.54 178.7 L1454.36 178.96 L1458.17 179.22 L1461.99 179.49 L1465.8 179.75 L1469.61 180.02 L1473.43 180.29 L1477.24 180.56 L1481.06 180.83 L1484.88 181.1 L1488.69 181.37 L1492.51 181.65 L1496.32 181.93 L1500.14 182.2 L1503.95 182.48 L1507.76 182.76 L1511.58 183.05 L1515.39 183.33 L1519.21 183.61 L1523.03 183.9 L1526.84 184.19 L1530.66 184.48 L1534.47 184.77 L1538.29 185.06 L1542.1 185.35 L1545.91 185.64 L1549.73 185.94 L1553.54 186.23 L1557.36 186.53 L1561.17 186.83 L1564.99 187.13 L1568.81 187.43 L1572.62 187.73 L1576.44 188.03 L1580.25 188.33 L1584.06 188.64 L1587.88 188.94 L1591.69 189.25 L1595.51 189.55 L1599.33 189.86 L1603.14 190.17 L1606.96 190.48 L1610.77 190.79 L1614.59 191.1 L1618.4 191.41 L1622.21 191.73 L1626.03 192.04 L1629.84 192.36 L1633.66 192.67 L1637.47 192.99 L1641.29 193.3 L1645.11 193.62 L1648.92 193.94 L1652.74 194.26 L1656.55 194.58 L1660.36 194.9 L1664.18 195.22 L1667.99 195.54 L1671.81 195.86 L1675.62 196.18 L1679.44 196.5 L1683.26 196.83 L1687.07 197.15 L1690.89 197.47 L1694.7 197.8 L1698.51 198.12 L1702.33 198.45 L1706.14 198.77 L1709.96 199.1 L1713.78 199.43 L1717.59 199.75 L1721.41 200.08 L1725.22 200.41 L1729.04 200.73 L1732.85 201.06 L1736.66 201.39 L1740.48 201.72 L1744.29 202.04 L1748.11 202.37 L1751.92 202.7 L1755.74 203.03 L1759.56 203.36 L1763.37 203.69 L1767.19 204.01 L1771 204.34" fill="none" stroke="#ff0000" stroke-width="5.1" stroke-linejoin="round" stroke-linecap="butt"/>
<path d="M1266.5 334.7V372.5" stroke="#000" stroke-width="1.7" stroke-dasharray="2 5.1" fill="none"/>
<path d="M1303.2 334.7V372.5" stroke="#000" stroke-width="1.7" stroke-dasharray="2 5.1" fill="none"/>
<path d="M1236.2 360.1H1262 M1255.5 352.5Q1257.5 357.5 1262.8 360.1Q1257.5 362.7 1255.5 367.7" stroke="#262626" stroke-width="1.6" fill="none"/>
<path d="M1331.7 360.1H1306 M1312.5 352.5Q1310.5 357.5 1305.2 360.1Q1310.5 362.7 1312.5 367.7" stroke="#262626" stroke-width="1.6" fill="none"/>
<text class="tk" text-anchor="start" transform="translate(1342.5 366.9) scale(1 1.07)">Δφ</text>
<text class="pn" x="908.2" y="38.7">(b)</text>
</svg></body></html>
